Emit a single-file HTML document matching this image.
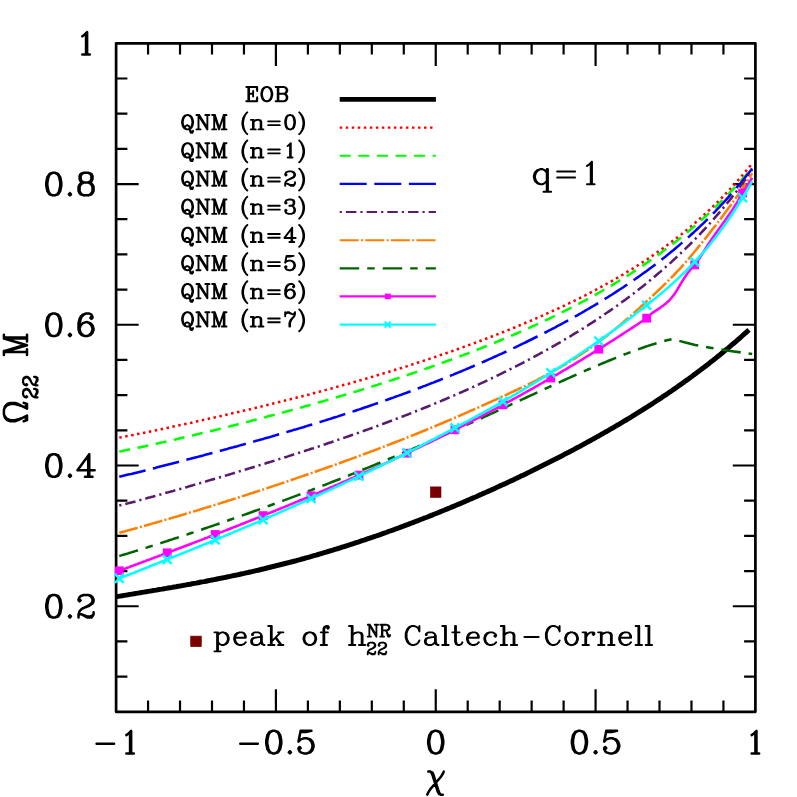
<!DOCTYPE html>
<html><head><meta charset="utf-8"><title>plot</title><style>html,body{margin:0;padding:0;background:#fff;font-family:"Liberation Sans",sans-serif}svg{display:block}</style></head><body>
<svg width="797" height="797" viewBox="0 0 797 797">
<rect width="797" height="797" fill="#fff"/>
<rect x="116.10" y="43.30" width="639.30" height="668.50" fill="none" stroke="#000" stroke-width="2.70" stroke-linejoin="round"/>
<path d="M148.06 711.80 v-11.3 M148.06 43.30 v11.3M180.03 711.80 v-11.3 M180.03 43.30 v11.3M212.00 711.80 v-11.3 M212.00 43.30 v11.3M243.96 711.80 v-11.3 M243.96 43.30 v11.3M275.92 711.80 v-22.6 M275.92 43.30 v22.6M307.89 711.80 v-11.3 M307.89 43.30 v11.3M339.85 711.80 v-11.3 M339.85 43.30 v11.3M371.82 711.80 v-11.3 M371.82 43.30 v11.3M403.78 711.80 v-11.3 M403.78 43.30 v11.3M435.75 711.80 v-22.6 M435.75 43.30 v22.6M467.71 711.80 v-11.3 M467.71 43.30 v11.3M499.68 711.80 v-11.3 M499.68 43.30 v11.3M531.64 711.80 v-11.3 M531.64 43.30 v11.3M563.61 711.80 v-11.3 M563.61 43.30 v11.3M595.58 711.80 v-22.6 M595.58 43.30 v22.6M627.54 711.80 v-11.3 M627.54 43.30 v11.3M659.50 711.80 v-11.3 M659.50 43.30 v11.3M691.47 711.80 v-11.3 M691.47 43.30 v11.3M723.43 711.80 v-11.3 M723.43 43.30 v11.3M116.10 78.48 h11.3 M755.40 78.48 h-11.3M116.10 113.67 h11.3 M755.40 113.67 h-11.3M116.10 148.85 h11.3 M755.40 148.85 h-11.3M116.10 184.04 h22.6 M755.40 184.04 h-22.6M116.10 219.22 h11.3 M755.40 219.22 h-11.3M116.10 254.41 h11.3 M755.40 254.41 h-11.3M116.10 289.59 h11.3 M755.40 289.59 h-11.3M116.10 324.77 h22.6 M755.40 324.77 h-22.6M116.10 359.96 h11.3 M755.40 359.96 h-11.3M116.10 395.14 h11.3 M755.40 395.14 h-11.3M116.10 430.33 h11.3 M755.40 430.33 h-11.3M116.10 465.51 h22.6 M755.40 465.51 h-22.6M116.10 500.69 h11.3 M755.40 500.69 h-11.3M116.10 535.88 h11.3 M755.40 535.88 h-11.3M116.10 571.06 h11.3 M755.40 571.06 h-11.3M116.10 606.25 h22.6 M755.40 606.25 h-22.6M116.10 641.43 h11.3 M755.40 641.43 h-11.3M116.10 676.62 h11.3 M755.40 676.62 h-11.3" stroke="#000" stroke-width="2.20" fill="none"/>
<path d="M116.1 596.8 L118.1 596.4 L120.1 596.1 L122.1 595.8 L124.1 595.4 L126.1 595.1 L128.1 594.8 L130.1 594.4 L132.1 594.1 L134.1 593.8 L136.1 593.4 L138.1 593.1 L140.1 592.8 L142.1 592.4 L144.1 592.1 L146.1 591.8 L148.1 591.4 L150.1 591.1 L152.1 590.8 L154.1 590.4 L156.1 590.1 L158.1 589.7 L160.1 589.4 L162.1 589.1 L164.1 588.7 L166.1 588.4 L168.1 588.0 L170.1 587.7 L172.1 587.4 L174.1 587.0 L176.1 586.7 L178.1 586.3 L180.1 586.0 L182.1 585.6 L184.1 585.2 L186.1 584.9 L188.1 584.5 L190.1 584.2 L192.1 583.8 L194.1 583.4 L196.1 583.1 L198.1 582.7 L200.1 582.3 L202.1 581.9 L204.1 581.6 L206.1 581.2 L208.1 580.8 L210.1 580.4 L212.1 580.0 L214.1 579.6 L216.1 579.2 L218.1 578.8 L220.1 578.4 L222.1 578.0 L224.1 577.6 L226.1 577.2 L228.1 576.8 L230.1 576.4 L232.1 575.9 L234.1 575.5 L236.1 575.1 L238.1 574.7 L240.1 574.2 L242.1 573.8 L244.1 573.4 L246.1 572.9 L248.1 572.5 L250.1 572.0 L252.1 571.6 L254.1 571.1 L256.1 570.6 L258.1 570.2 L260.1 569.7 L262.1 569.2 L264.1 568.8 L266.1 568.3 L268.1 567.8 L270.1 567.3 L272.1 566.8 L274.1 566.3 L276.1 565.8 L278.1 565.3 L280.1 564.8 L282.1 564.3 L284.1 563.8 L286.1 563.3 L288.1 562.8 L290.1 562.2 L292.1 561.7 L294.1 561.2 L296.1 560.7 L298.1 560.1 L300.1 559.6 L302.1 559.0 L304.1 558.5 L306.1 557.9 L308.1 557.4 L310.1 556.8 L312.1 556.2 L314.1 555.6 L316.1 555.1 L318.1 554.5 L320.1 553.9 L322.1 553.3 L324.1 552.7 L326.1 552.1 L328.1 551.5 L330.1 550.9 L332.1 550.3 L334.1 549.7 L336.1 549.1 L338.1 548.5 L340.1 547.9 L342.1 547.2 L344.1 546.6 L346.1 546.0 L348.1 545.3 L350.1 544.7 L352.1 544.0 L354.1 543.4 L356.1 542.7 L358.1 542.1 L360.1 541.4 L362.1 540.7 L364.1 540.1 L366.1 539.4 L368.1 538.7 L370.1 538.0 L372.1 537.4 L374.1 536.7 L376.1 536.0 L378.1 535.3 L380.1 534.6 L382.1 533.9 L384.1 533.2 L386.1 532.5 L388.1 531.7 L390.1 531.0 L392.1 530.3 L394.1 529.6 L396.1 528.8 L398.1 528.1 L400.1 527.4 L402.1 526.6 L404.1 525.9 L406.1 525.1 L408.1 524.4 L410.1 523.6 L412.1 522.9 L414.1 522.1 L416.1 521.3 L418.1 520.6 L420.1 519.8 L422.1 519.0 L424.1 518.2 L426.1 517.5 L428.1 516.7 L430.1 515.9 L432.1 515.1 L434.1 514.3 L436.1 513.5 L438.1 512.7 L440.1 511.9 L442.1 511.0 L444.1 510.2 L446.1 509.4 L448.1 508.6 L450.1 507.8 L452.1 506.9 L454.1 506.1 L456.1 505.2 L458.1 504.4 L460.1 503.6 L462.1 502.7 L464.1 501.9 L466.1 501.0 L468.1 500.1 L470.1 499.3 L472.1 498.4 L474.1 497.5 L476.1 496.7 L478.1 495.8 L480.1 494.9 L482.1 494.0 L484.1 493.1 L486.1 492.3 L488.1 491.4 L490.1 490.5 L492.1 489.6 L494.1 488.7 L496.1 487.7 L498.1 486.8 L500.1 485.9 L502.1 485.0 L504.1 484.1 L506.1 483.2 L508.1 482.2 L510.1 481.3 L512.1 480.4 L514.1 479.4 L516.1 478.5 L518.1 477.5 L520.1 476.6 L522.1 475.6 L524.1 474.7 L526.1 473.7 L528.1 472.7 L530.1 471.8 L532.1 470.8 L534.1 469.8 L536.1 468.8 L538.1 467.8 L540.1 466.8 L542.1 465.8 L544.1 464.8 L546.1 463.8 L548.1 462.8 L550.1 461.8 L552.1 460.8 L554.1 459.8 L556.1 458.8 L558.1 457.7 L560.1 456.7 L562.1 455.7 L564.1 454.6 L566.1 453.6 L568.1 452.6 L570.1 451.5 L572.1 450.4 L574.1 449.4 L576.1 448.3 L578.1 447.2 L580.1 446.2 L582.1 445.1 L584.1 444.0 L586.1 442.9 L588.1 441.8 L590.1 440.7 L592.1 439.6 L594.1 438.5 L596.1 437.4 L598.1 436.3 L600.1 435.1 L602.1 434.0 L604.1 432.9 L606.1 431.7 L608.1 430.6 L610.1 429.4 L612.1 428.3 L614.1 427.1 L616.1 425.9 L618.1 424.8 L620.1 423.6 L622.1 422.4 L624.1 421.2 L626.1 420.0 L628.1 418.8 L630.1 417.6 L632.1 416.4 L634.1 415.1 L636.1 413.9 L638.1 412.7 L640.1 411.4 L642.1 410.2 L644.1 408.9 L646.1 407.6 L648.1 406.4 L650.1 405.1 L652.1 403.8 L654.1 402.5 L656.1 401.2 L658.1 399.9 L660.1 398.6 L662.1 397.2 L664.1 395.9 L666.1 394.6 L668.1 393.2 L670.1 391.8 L672.1 390.5 L674.1 389.1 L676.1 387.7 L678.1 386.3 L680.1 384.9 L682.1 383.5 L684.1 382.1 L686.1 380.6 L688.1 379.2 L690.1 377.7 L692.1 376.3 L694.1 374.8 L696.1 373.3 L698.1 371.8 L700.1 370.3 L702.1 368.8 L704.1 367.3 L706.1 365.7 L708.1 364.2 L710.1 362.6 L712.1 361.1 L714.1 359.5 L716.1 357.9 L718.1 356.3 L720.1 354.7 L722.1 353.0 L724.1 351.4 L726.1 349.7 L728.1 348.1 L730.1 346.4 L732.1 344.7 L734.1 343.0 L736.1 341.3 L738.1 339.5 L740.1 337.8 L742.1 336.0 L744.1 334.2 L746.1 332.5 L748.1 330.6 L749.0 329.8" fill="none" stroke="#000" stroke-width="5.00" stroke-linecap="butt" stroke-linejoin="round"/>
<path d="M119.3 437.6 L121.3 437.3 L123.3 436.9 L125.3 436.5 L127.3 436.1 L129.3 435.7 L131.3 435.3 L133.3 434.9 L135.3 434.5 L137.3 434.1 L139.3 433.7 L141.3 433.3 L143.3 432.9 L145.3 432.5 L147.3 432.1 L149.3 431.7 L151.3 431.2 L153.3 430.8 L155.3 430.4 L157.3 430.0 L159.3 429.6 L161.3 429.2 L163.3 428.7 L165.3 428.3 L167.3 427.9 L169.3 427.5 L171.3 427.0 L173.3 426.6 L175.3 426.2 L177.3 425.7 L179.3 425.3 L181.3 424.9 L183.3 424.4 L185.3 424.0 L187.3 423.6 L189.3 423.1 L191.3 422.7 L193.3 422.2 L195.3 421.8 L197.3 421.3 L199.3 420.9 L201.3 420.4 L203.3 420.0 L205.3 419.6 L207.3 419.1 L209.3 418.6 L211.3 418.2 L213.3 417.7 L215.3 417.3 L217.3 416.8 L219.3 416.4 L221.3 415.9 L223.3 415.5 L225.3 415.0 L227.3 414.5 L229.3 414.1 L231.3 413.6 L233.3 413.1 L235.3 412.7 L237.3 412.2 L239.3 411.7 L241.3 411.3 L243.3 410.8 L245.3 410.3 L247.3 409.8 L249.3 409.4 L251.3 408.9 L253.3 408.4 L255.3 407.9 L257.3 407.4 L259.3 406.9 L261.3 406.5 L263.3 406.0 L265.3 405.5 L267.3 405.0 L269.3 404.5 L271.3 404.0 L273.3 403.5 L275.3 403.0 L277.3 402.5 L279.3 402.0 L281.3 401.5 L283.3 401.0 L285.3 400.5 L287.3 400.0 L289.3 399.5 L291.3 399.0 L293.3 398.5 L295.3 398.0 L297.3 397.5 L299.3 397.0 L301.3 396.4 L303.3 395.9 L305.3 395.4 L307.3 394.9 L309.3 394.4 L311.3 393.8 L313.3 393.3 L315.3 392.8 L317.3 392.2 L319.3 391.7 L321.3 391.2 L323.3 390.6 L325.3 390.1 L327.3 389.5 L329.3 389.0 L331.3 388.5 L333.3 387.9 L335.3 387.4 L337.3 386.8 L339.3 386.3 L341.3 385.7 L343.3 385.1 L345.3 384.6 L347.3 384.0 L349.3 383.5 L351.3 382.9 L353.3 382.3 L355.3 381.7 L357.3 381.2 L359.3 380.6 L361.3 380.0 L363.3 379.4 L365.3 378.9 L367.3 378.3 L369.3 377.7 L371.3 377.1 L373.3 376.5 L375.3 375.9 L377.3 375.3 L379.3 374.7 L381.3 374.1 L383.3 373.5 L385.3 372.9 L387.3 372.3 L389.3 371.7 L391.3 371.1 L393.3 370.5 L395.3 369.8 L397.3 369.2 L399.3 368.6 L401.3 368.0 L403.3 367.3 L405.3 366.7 L407.3 366.1 L409.3 365.4 L411.3 364.8 L413.3 364.1 L415.3 363.5 L417.3 362.8 L419.3 362.2 L421.3 361.5 L423.3 360.9 L425.3 360.2 L427.3 359.6 L429.3 358.9 L431.3 358.2 L433.3 357.6 L435.3 356.9 L437.3 356.2 L439.3 355.5 L441.3 354.8 L443.3 354.2 L445.3 353.5 L447.3 352.8 L449.3 352.1 L451.3 351.4 L453.3 350.7 L455.3 350.0 L457.3 349.3 L459.3 348.6 L461.3 347.8 L463.3 347.1 L465.3 346.4 L467.3 345.7 L469.3 344.9 L471.3 344.2 L473.3 343.5 L475.3 342.7 L477.3 342.0 L479.3 341.3 L481.3 340.5 L483.3 339.7 L485.3 339.0 L487.3 338.2 L489.3 337.5 L491.3 336.7 L493.3 335.9 L495.3 335.2 L497.3 334.4 L499.3 333.6 L501.3 332.8 L503.3 332.0 L505.3 331.2 L507.3 330.4 L509.3 329.6 L511.3 328.8 L513.3 328.0 L515.3 327.2 L517.3 326.3 L519.3 325.5 L521.3 324.7 L523.3 323.9 L525.3 323.0 L527.3 322.2 L529.3 321.3 L531.3 320.5 L533.3 319.6 L535.3 318.7 L537.3 317.9 L539.3 317.0 L541.3 316.1 L543.3 315.2 L545.3 314.3 L547.3 313.4 L549.3 312.5 L551.3 311.6 L553.3 310.7 L555.3 309.8 L557.3 308.9 L559.3 308.0 L561.3 307.0 L563.3 306.1 L565.3 305.1 L567.3 304.2 L569.3 303.2 L571.3 302.2 L573.3 301.3 L575.3 300.3 L577.3 299.3 L579.3 298.3 L581.3 297.3 L583.3 296.3 L585.3 295.3 L587.3 294.2 L589.3 293.2 L591.3 292.2 L593.3 291.1 L595.3 290.1 L597.3 289.0 L599.3 287.9 L601.3 286.8 L603.3 285.7 L605.3 284.6 L607.3 283.5 L609.3 282.4 L611.3 281.3 L613.3 280.2 L615.3 279.0 L617.3 277.9 L619.3 276.7 L621.3 275.5 L623.3 274.3 L625.3 273.1 L627.3 271.9 L629.3 270.7 L631.3 269.5 L633.3 268.2 L635.3 267.0 L637.3 265.7 L639.3 264.4 L641.3 263.1 L643.3 261.8 L645.3 260.5 L647.3 259.2 L649.3 257.8 L651.3 256.5 L653.3 255.1 L655.3 253.7 L657.3 252.3 L659.3 250.9 L661.3 249.5 L663.3 248.1 L665.3 246.6 L667.3 245.1 L669.3 243.6 L671.3 242.1 L673.3 240.6 L675.3 239.1 L677.3 237.5 L679.3 235.9 L681.3 234.4 L683.3 232.7 L685.3 231.1 L687.3 229.5 L689.3 227.8 L691.3 226.1 L693.3 224.4 L695.3 222.7 L697.3 220.9 L699.3 219.2 L701.3 217.4 L703.3 215.6 L705.3 213.8 L707.3 211.9 L709.3 210.0 L711.3 208.1 L713.3 206.2 L715.3 204.3 L717.3 202.3 L719.3 200.3 L721.3 198.3 L723.3 196.2 L725.3 194.1 L727.3 192.0 L729.3 189.9 L731.3 187.8 L733.3 185.6 L735.3 183.4 L737.3 181.1 L739.3 178.8 L741.3 176.5 L743.3 174.2 L745.3 171.8 L747.3 169.5 L749.3 167.0 L751.3 164.6 L752.2 163.4" fill="none" stroke="#ff0000" stroke-width="2.55" stroke-linecap="butt" stroke-linejoin="round" stroke-dasharray="2.5 3.52"/>
<path d="M119.3 451.6 L121.3 451.2 L123.3 450.7 L125.3 450.3 L127.3 449.9 L129.3 449.5 L131.3 449.1 L133.3 448.7 L135.3 448.3 L137.3 447.9 L139.3 447.4 L141.3 447.0 L143.3 446.6 L145.3 446.2 L147.3 445.7 L149.3 445.3 L151.3 444.9 L153.3 444.4 L155.3 444.0 L157.3 443.5 L159.3 443.1 L161.3 442.6 L163.3 442.2 L165.3 441.7 L167.3 441.3 L169.3 440.8 L171.3 440.4 L173.3 439.9 L175.3 439.5 L177.3 439.0 L179.3 438.5 L181.3 438.1 L183.3 437.6 L185.3 437.1 L187.3 436.7 L189.3 436.2 L191.3 435.7 L193.3 435.3 L195.3 434.8 L197.3 434.3 L199.3 433.8 L201.3 433.3 L203.3 432.9 L205.3 432.4 L207.3 431.9 L209.3 431.4 L211.3 430.9 L213.3 430.4 L215.3 429.9 L217.3 429.4 L219.3 428.9 L221.3 428.4 L223.3 428.0 L225.3 427.5 L227.3 427.0 L229.3 426.5 L231.3 425.9 L233.3 425.4 L235.3 424.9 L237.3 424.4 L239.3 423.9 L241.3 423.4 L243.3 422.9 L245.3 422.4 L247.3 421.9 L249.3 421.4 L251.3 420.8 L253.3 420.3 L255.3 419.8 L257.3 419.3 L259.3 418.8 L261.3 418.2 L263.3 417.7 L265.3 417.2 L267.3 416.6 L269.3 416.1 L271.3 415.6 L273.3 415.1 L275.3 414.5 L277.3 414.0 L279.3 413.4 L281.3 412.9 L283.3 412.4 L285.3 411.8 L287.3 411.3 L289.3 410.7 L291.3 410.2 L293.3 409.6 L295.3 409.1 L297.3 408.5 L299.3 408.0 L301.3 407.4 L303.3 406.9 L305.3 406.3 L307.3 405.7 L309.3 405.2 L311.3 404.6 L313.3 404.0 L315.3 403.5 L317.3 402.9 L319.3 402.3 L321.3 401.7 L323.3 401.2 L325.3 400.6 L327.3 400.0 L329.3 399.4 L331.3 398.8 L333.3 398.3 L335.3 397.7 L337.3 397.1 L339.3 396.5 L341.3 395.9 L343.3 395.3 L345.3 394.7 L347.3 394.1 L349.3 393.5 L351.3 392.9 L353.3 392.3 L355.3 391.7 L357.3 391.1 L359.3 390.5 L361.3 389.9 L363.3 389.2 L365.3 388.6 L367.3 388.0 L369.3 387.4 L371.3 386.7 L373.3 386.1 L375.3 385.5 L377.3 384.9 L379.3 384.2 L381.3 383.6 L383.3 382.9 L385.3 382.3 L387.3 381.7 L389.3 381.0 L391.3 380.4 L393.3 379.7 L395.3 379.0 L397.3 378.4 L399.3 377.7 L401.3 377.1 L403.3 376.4 L405.3 375.7 L407.3 375.1 L409.3 374.4 L411.3 373.7 L413.3 373.0 L415.3 372.4 L417.3 371.7 L419.3 371.0 L421.3 370.3 L423.3 369.6 L425.3 368.9 L427.3 368.2 L429.3 367.5 L431.3 366.8 L433.3 366.1 L435.3 365.4 L437.3 364.7 L439.3 363.9 L441.3 363.2 L443.3 362.5 L445.3 361.8 L447.3 361.0 L449.3 360.3 L451.3 359.6 L453.3 358.8 L455.3 358.1 L457.3 357.3 L459.3 356.6 L461.3 355.8 L463.3 355.1 L465.3 354.3 L467.3 353.6 L469.3 352.8 L471.3 352.0 L473.3 351.2 L475.3 350.5 L477.3 349.7 L479.3 348.9 L481.3 348.1 L483.3 347.3 L485.3 346.5 L487.3 345.7 L489.3 344.9 L491.3 344.1 L493.3 343.3 L495.3 342.5 L497.3 341.6 L499.3 340.8 L501.3 340.0 L503.3 339.1 L505.3 338.3 L507.3 337.5 L509.3 336.6 L511.3 335.7 L513.3 334.9 L515.3 334.0 L517.3 333.2 L519.3 332.3 L521.3 331.4 L523.3 330.5 L525.3 329.6 L527.3 328.7 L529.3 327.8 L531.3 326.9 L533.3 326.0 L535.3 325.1 L537.3 324.2 L539.3 323.3 L541.3 322.3 L543.3 321.4 L545.3 320.5 L547.3 319.5 L549.3 318.6 L551.3 317.6 L553.3 316.6 L555.3 315.7 L557.3 314.7 L559.3 313.7 L561.3 312.7 L563.3 311.7 L565.3 310.7 L567.3 309.7 L569.3 308.7 L571.3 307.6 L573.3 306.6 L575.3 305.6 L577.3 304.5 L579.3 303.5 L581.3 302.4 L583.3 301.4 L585.3 300.3 L587.3 299.2 L589.3 298.1 L591.3 297.0 L593.3 295.9 L595.3 294.8 L597.3 293.7 L599.3 292.5 L601.3 291.4 L603.3 290.2 L605.3 289.1 L607.3 287.9 L609.3 286.7 L611.3 285.6 L613.3 284.4 L615.3 283.2 L617.3 282.0 L619.3 280.7 L621.3 279.5 L623.3 278.3 L625.3 277.0 L627.3 275.8 L629.3 274.5 L631.3 273.2 L633.3 271.9 L635.3 270.6 L637.3 269.3 L639.3 268.0 L641.3 266.6 L643.3 265.3 L645.3 263.9 L647.3 262.5 L649.3 261.1 L651.3 259.7 L653.3 258.3 L655.3 256.9 L657.3 255.5 L659.3 254.0 L661.3 252.6 L663.3 251.1 L665.3 249.6 L667.3 248.1 L669.3 246.6 L671.3 245.0 L673.3 243.5 L675.3 241.9 L677.3 240.4 L679.3 238.8 L681.3 237.2 L683.3 235.5 L685.3 233.9 L687.3 232.2 L689.3 230.6 L691.3 228.9 L693.3 227.2 L695.3 225.4 L697.3 223.7 L699.3 221.9 L701.3 220.2 L703.3 218.4 L705.3 216.5 L707.3 214.7 L709.3 212.9 L711.3 211.0 L713.3 209.1 L715.3 207.2 L717.3 205.2 L719.3 203.3 L721.3 201.3 L723.3 199.3 L725.3 197.3 L727.3 195.3 L729.3 193.2 L731.3 191.1 L733.3 189.0 L735.3 186.9 L737.3 184.7 L739.3 182.5 L741.3 180.3 L743.3 178.1 L745.3 175.8 L747.3 173.6 L749.3 171.2 L751.3 168.9 L752.2 167.8" fill="none" stroke="#00ff00" stroke-width="2.55" stroke-linecap="butt" stroke-linejoin="round" stroke-dasharray="11 7.6"/>
<path d="M119.3 476.8 L121.3 476.3 L123.3 475.8 L125.3 475.3 L127.3 474.8 L129.3 474.3 L131.3 473.9 L133.3 473.4 L135.3 472.9 L137.3 472.4 L139.3 471.9 L141.3 471.4 L143.3 470.9 L145.3 470.4 L147.3 469.9 L149.3 469.4 L151.3 468.9 L153.3 468.4 L155.3 467.9 L157.3 467.3 L159.3 466.8 L161.3 466.3 L163.3 465.8 L165.3 465.3 L167.3 464.8 L169.3 464.3 L171.3 463.8 L173.3 463.2 L175.3 462.7 L177.3 462.2 L179.3 461.7 L181.3 461.2 L183.3 460.6 L185.3 460.1 L187.3 459.6 L189.3 459.1 L191.3 458.5 L193.3 458.0 L195.3 457.5 L197.3 457.0 L199.3 456.4 L201.3 455.9 L203.3 455.4 L205.3 454.8 L207.3 454.3 L209.3 453.8 L211.3 453.2 L213.3 452.7 L215.3 452.1 L217.3 451.6 L219.3 451.1 L221.3 450.5 L223.3 450.0 L225.3 449.4 L227.3 448.9 L229.3 448.3 L231.3 447.8 L233.3 447.3 L235.3 446.7 L237.3 446.2 L239.3 445.6 L241.3 445.0 L243.3 444.5 L245.3 443.9 L247.3 443.4 L249.3 442.8 L251.3 442.3 L253.3 441.7 L255.3 441.1 L257.3 440.6 L259.3 440.0 L261.3 439.4 L263.3 438.9 L265.3 438.3 L267.3 437.7 L269.3 437.2 L271.3 436.6 L273.3 436.0 L275.3 435.4 L277.3 434.8 L279.3 434.3 L281.3 433.7 L283.3 433.1 L285.3 432.5 L287.3 431.9 L289.3 431.3 L291.3 430.7 L293.3 430.1 L295.3 429.6 L297.3 429.0 L299.3 428.4 L301.3 427.8 L303.3 427.2 L305.3 426.5 L307.3 425.9 L309.3 425.3 L311.3 424.7 L313.3 424.1 L315.3 423.5 L317.3 422.9 L319.3 422.3 L321.3 421.6 L323.3 421.0 L325.3 420.4 L327.3 419.7 L329.3 419.1 L331.3 418.5 L333.3 417.8 L335.3 417.2 L337.3 416.6 L339.3 415.9 L341.3 415.3 L343.3 414.6 L345.3 414.0 L347.3 413.3 L349.3 412.7 L351.3 412.0 L353.3 411.4 L355.3 410.7 L357.3 410.0 L359.3 409.4 L361.3 408.7 L363.3 408.0 L365.3 407.3 L367.3 406.7 L369.3 406.0 L371.3 405.3 L373.3 404.6 L375.3 403.9 L377.3 403.2 L379.3 402.5 L381.3 401.8 L383.3 401.1 L385.3 400.4 L387.3 399.7 L389.3 399.0 L391.3 398.3 L393.3 397.6 L395.3 396.8 L397.3 396.1 L399.3 395.4 L401.3 394.7 L403.3 393.9 L405.3 393.2 L407.3 392.5 L409.3 391.7 L411.3 391.0 L413.3 390.2 L415.3 389.5 L417.3 388.7 L419.3 388.0 L421.3 387.2 L423.3 386.4 L425.3 385.7 L427.3 384.9 L429.3 384.1 L431.3 383.3 L433.3 382.6 L435.3 381.8 L437.3 381.0 L439.3 380.2 L441.3 379.4 L443.3 378.6 L445.3 377.8 L447.3 377.0 L449.3 376.2 L451.3 375.4 L453.3 374.6 L455.3 373.7 L457.3 372.9 L459.3 372.1 L461.3 371.3 L463.3 370.4 L465.3 369.6 L467.3 368.7 L469.3 367.9 L471.3 367.0 L473.3 366.2 L475.3 365.3 L477.3 364.5 L479.3 363.6 L481.3 362.7 L483.3 361.9 L485.3 361.0 L487.3 360.1 L489.3 359.2 L491.3 358.3 L493.3 357.4 L495.3 356.5 L497.3 355.6 L499.3 354.7 L501.3 353.8 L503.3 352.9 L505.3 352.0 L507.3 351.0 L509.3 350.1 L511.3 349.2 L513.3 348.2 L515.3 347.3 L517.3 346.3 L519.3 345.4 L521.3 344.4 L523.3 343.4 L525.3 342.5 L527.3 341.5 L529.3 340.5 L531.3 339.5 L533.3 338.5 L535.3 337.5 L537.3 336.5 L539.3 335.5 L541.3 334.5 L543.3 333.5 L545.3 332.5 L547.3 331.5 L549.3 330.4 L551.3 329.4 L553.3 328.3 L555.3 327.3 L557.3 326.2 L559.3 325.2 L561.3 324.1 L563.3 323.0 L565.3 321.9 L567.3 320.8 L569.3 319.7 L571.3 318.6 L573.3 317.5 L575.3 316.4 L577.3 315.3 L579.3 314.1 L581.3 313.0 L583.3 311.9 L585.3 310.7 L587.3 309.5 L589.3 308.4 L591.3 307.2 L593.3 306.0 L595.3 304.8 L597.3 303.6 L599.3 302.4 L601.3 301.2 L603.3 300.0 L605.3 298.7 L607.3 297.5 L609.3 296.2 L611.3 295.0 L613.3 293.7 L615.3 292.4 L617.3 291.1 L619.3 289.8 L621.3 288.5 L623.3 287.2 L625.3 285.8 L627.3 284.5 L629.3 283.1 L631.3 281.8 L633.3 280.4 L635.3 279.0 L637.3 277.6 L639.3 276.2 L641.3 274.8 L643.3 273.3 L645.3 271.9 L647.3 270.4 L649.3 268.9 L651.3 267.5 L653.3 266.0 L655.3 264.4 L657.3 262.9 L659.3 261.4 L661.3 259.8 L663.3 258.2 L665.3 256.7 L667.3 255.1 L669.3 253.4 L671.3 251.8 L673.3 250.2 L675.3 248.5 L677.3 246.8 L679.3 245.1 L681.3 243.4 L683.3 241.7 L685.3 239.9 L687.3 238.1 L689.3 236.4 L691.3 234.5 L693.3 232.7 L695.3 230.9 L697.3 229.0 L699.3 227.1 L701.3 225.2 L703.3 223.3 L705.3 221.3 L707.3 219.4 L709.3 217.4 L711.3 215.4 L713.3 213.3 L715.3 211.3 L717.3 209.2 L719.3 207.1 L721.3 204.9 L723.3 202.8 L725.3 200.6 L727.3 198.4 L729.3 196.2 L731.3 193.9 L733.3 191.6 L735.3 189.3 L737.3 186.9 L739.3 184.6 L741.3 182.2 L743.3 179.7 L745.3 177.3 L747.3 174.8 L749.3 172.2 L751.3 169.7 L752.2 168.5" fill="none" stroke="#0000ff" stroke-width="2.55" stroke-linecap="butt" stroke-linejoin="round" stroke-dasharray="27 7.6"/>
<path d="M119.3 505.5 L121.3 505.0 L123.3 504.5 L125.3 504.0 L127.3 503.5 L129.3 502.9 L131.3 502.4 L133.3 501.9 L135.3 501.4 L137.3 500.8 L139.3 500.3 L141.3 499.8 L143.3 499.2 L145.3 498.7 L147.3 498.1 L149.3 497.6 L151.3 497.0 L153.3 496.5 L155.3 495.9 L157.3 495.4 L159.3 494.8 L161.3 494.3 L163.3 493.7 L165.3 493.1 L167.3 492.6 L169.3 492.0 L171.3 491.4 L173.3 490.9 L175.3 490.3 L177.3 489.7 L179.3 489.2 L181.3 488.6 L183.3 488.0 L185.3 487.4 L187.3 486.9 L189.3 486.3 L191.3 485.7 L193.3 485.1 L195.3 484.5 L197.3 483.9 L199.3 483.4 L201.3 482.8 L203.3 482.2 L205.3 481.6 L207.3 481.0 L209.3 480.4 L211.3 479.8 L213.3 479.2 L215.3 478.6 L217.3 478.0 L219.3 477.4 L221.3 476.9 L223.3 476.3 L225.3 475.7 L227.3 475.1 L229.3 474.5 L231.3 473.9 L233.3 473.3 L235.3 472.6 L237.3 472.0 L239.3 471.4 L241.3 470.8 L243.3 470.2 L245.3 469.6 L247.3 469.0 L249.3 468.4 L251.3 467.8 L253.3 467.2 L255.3 466.6 L257.3 465.9 L259.3 465.3 L261.3 464.7 L263.3 464.1 L265.3 463.5 L267.3 462.8 L269.3 462.2 L271.3 461.6 L273.3 461.0 L275.3 460.3 L277.3 459.7 L279.3 459.1 L281.3 458.5 L283.3 457.8 L285.3 457.2 L287.3 456.6 L289.3 455.9 L291.3 455.3 L293.3 454.6 L295.3 454.0 L297.3 453.4 L299.3 452.7 L301.3 452.1 L303.3 451.4 L305.3 450.8 L307.3 450.1 L309.3 449.5 L311.3 448.8 L313.3 448.2 L315.3 447.5 L317.3 446.8 L319.3 446.2 L321.3 445.5 L323.3 444.8 L325.3 444.2 L327.3 443.5 L329.3 442.8 L331.3 442.2 L333.3 441.5 L335.3 440.8 L337.3 440.1 L339.3 439.4 L341.3 438.8 L343.3 438.1 L345.3 437.4 L347.3 436.7 L349.3 436.0 L351.3 435.3 L353.3 434.6 L355.3 433.9 L357.3 433.2 L359.3 432.5 L361.3 431.8 L363.3 431.1 L365.3 430.3 L367.3 429.6 L369.3 428.9 L371.3 428.2 L373.3 427.5 L375.3 426.7 L377.3 426.0 L379.3 425.3 L381.3 424.5 L383.3 423.8 L385.3 423.0 L387.3 422.3 L389.3 421.5 L391.3 420.8 L393.3 420.0 L395.3 419.3 L397.3 418.5 L399.3 417.8 L401.3 417.0 L403.3 416.2 L405.3 415.4 L407.3 414.7 L409.3 413.9 L411.3 413.1 L413.3 412.3 L415.3 411.5 L417.3 410.7 L419.3 409.9 L421.3 409.1 L423.3 408.3 L425.3 407.5 L427.3 406.7 L429.3 405.9 L431.3 405.1 L433.3 404.2 L435.3 403.4 L437.3 402.6 L439.3 401.7 L441.3 400.9 L443.3 400.0 L445.3 399.2 L447.3 398.3 L449.3 397.5 L451.3 396.6 L453.3 395.8 L455.3 394.9 L457.3 394.0 L459.3 393.1 L461.3 392.3 L463.3 391.4 L465.3 390.5 L467.3 389.6 L469.3 388.7 L471.3 387.8 L473.3 386.9 L475.3 386.0 L477.3 385.1 L479.3 384.1 L481.3 383.2 L483.3 382.3 L485.3 381.3 L487.3 380.4 L489.3 379.4 L491.3 378.5 L493.3 377.5 L495.3 376.6 L497.3 375.6 L499.3 374.6 L501.3 373.7 L503.3 372.7 L505.3 371.7 L507.3 370.7 L509.3 369.7 L511.3 368.7 L513.3 367.7 L515.3 366.7 L517.3 365.6 L519.3 364.6 L521.3 363.6 L523.3 362.6 L525.3 361.5 L527.3 360.5 L529.3 359.4 L531.3 358.3 L533.3 357.3 L535.3 356.2 L537.3 355.1 L539.3 354.0 L541.3 352.9 L543.3 351.8 L545.3 350.7 L547.3 349.6 L549.3 348.5 L551.3 347.4 L553.3 346.2 L555.3 345.1 L557.3 343.9 L559.3 342.8 L561.3 341.6 L563.3 340.4 L565.3 339.2 L567.3 338.1 L569.3 336.9 L571.3 335.7 L573.3 334.4 L575.3 333.2 L577.3 332.0 L579.3 330.8 L581.3 329.5 L583.3 328.3 L585.3 327.0 L587.3 325.7 L589.3 324.4 L591.3 323.2 L593.3 321.9 L595.3 320.5 L597.3 319.2 L599.3 317.9 L601.3 316.6 L603.3 315.2 L605.3 313.8 L607.3 312.5 L609.3 311.1 L611.3 309.7 L613.3 308.3 L615.3 306.9 L617.3 305.5 L619.3 304.0 L621.3 302.6 L623.3 301.1 L625.3 299.7 L627.3 298.2 L629.3 296.7 L631.3 295.2 L633.3 293.7 L635.3 292.1 L637.3 290.6 L639.3 289.0 L641.3 287.4 L643.3 285.9 L645.3 284.3 L647.3 282.6 L649.3 281.0 L651.3 279.4 L653.3 277.7 L655.3 276.0 L657.3 274.3 L659.3 272.6 L661.3 270.9 L663.3 269.2 L665.3 267.4 L667.3 265.6 L669.3 263.9 L671.3 262.1 L673.3 260.2 L675.3 258.4 L677.3 256.5 L679.3 254.6 L681.3 252.7 L683.3 250.8 L685.3 248.9 L687.3 246.9 L689.3 245.0 L691.3 243.0 L693.3 240.9 L695.3 238.9 L697.3 236.8 L699.3 234.8 L701.3 232.6 L703.3 230.5 L705.3 228.4 L707.3 226.2 L709.3 224.0 L711.3 221.8 L713.3 219.5 L715.3 217.2 L717.3 214.9 L719.3 212.6 L721.3 210.2 L723.3 207.9 L725.3 205.5 L727.3 203.0 L729.3 200.6 L731.3 198.1 L733.3 195.5 L735.3 193.0 L737.3 190.4 L739.3 187.8 L741.3 185.1 L743.3 182.5 L745.3 179.8 L747.3 177.0 L749.3 174.2 L751.3 171.4 L752.2 170.1" fill="none" stroke="#5a1a6e" stroke-width="2.55" stroke-linecap="butt" stroke-linejoin="round" stroke-dasharray="2.2 4 10.5 4"/>
<path d="M119.3 532.8 L121.3 532.2 L123.3 531.7 L125.3 531.2 L127.3 530.6 L129.3 530.1 L131.3 529.5 L133.3 529.0 L135.3 528.4 L137.3 527.9 L139.3 527.3 L141.3 526.7 L143.3 526.2 L145.3 525.6 L147.3 525.0 L149.3 524.5 L151.3 523.9 L153.3 523.3 L155.3 522.8 L157.3 522.2 L159.3 521.6 L161.3 521.0 L163.3 520.5 L165.3 519.9 L167.3 519.3 L169.3 518.7 L171.3 518.1 L173.3 517.5 L175.3 516.9 L177.3 516.4 L179.3 515.8 L181.3 515.2 L183.3 514.6 L185.3 514.0 L187.3 513.4 L189.3 512.8 L191.3 512.2 L193.3 511.6 L195.3 511.0 L197.3 510.4 L199.3 509.7 L201.3 509.1 L203.3 508.5 L205.3 507.9 L207.3 507.3 L209.3 506.7 L211.3 506.0 L213.3 505.4 L215.3 504.8 L217.3 504.2 L219.3 503.6 L221.3 502.9 L223.3 502.3 L225.3 501.7 L227.3 501.0 L229.3 500.4 L231.3 499.8 L233.3 499.1 L235.3 498.5 L237.3 497.8 L239.3 497.2 L241.3 496.6 L243.3 495.9 L245.3 495.3 L247.3 494.6 L249.3 494.0 L251.3 493.3 L253.3 492.7 L255.3 492.0 L257.3 491.4 L259.3 490.7 L261.3 490.0 L263.3 489.4 L265.3 488.7 L267.3 488.1 L269.3 487.4 L271.3 486.7 L273.3 486.1 L275.3 485.4 L277.3 484.7 L279.3 484.1 L281.3 483.4 L283.3 482.7 L285.3 482.0 L287.3 481.4 L289.3 480.7 L291.3 480.0 L293.3 479.3 L295.3 478.6 L297.3 477.9 L299.3 477.3 L301.3 476.6 L303.3 475.9 L305.3 475.2 L307.3 474.5 L309.3 473.8 L311.3 473.1 L313.3 472.4 L315.3 471.7 L317.3 471.0 L319.3 470.3 L321.3 469.6 L323.3 468.9 L325.3 468.2 L327.3 467.5 L329.3 466.8 L331.3 466.1 L333.3 465.4 L335.3 464.7 L337.3 463.9 L339.3 463.2 L341.3 462.5 L343.3 461.8 L345.3 461.0 L347.3 460.3 L349.3 459.6 L351.3 458.9 L353.3 458.1 L355.3 457.4 L357.3 456.7 L359.3 455.9 L361.3 455.2 L363.3 454.4 L365.3 453.7 L367.3 452.9 L369.3 452.2 L371.3 451.4 L373.3 450.7 L375.3 449.9 L377.3 449.2 L379.3 448.4 L381.3 447.6 L383.3 446.9 L385.3 446.1 L387.3 445.3 L389.3 444.6 L391.3 443.8 L393.3 443.0 L395.3 442.2 L397.3 441.4 L399.3 440.7 L401.3 439.9 L403.3 439.1 L405.3 438.3 L407.3 437.5 L409.3 436.7 L411.3 435.9 L413.3 435.1 L415.3 434.3 L417.3 433.5 L419.3 432.7 L421.3 431.8 L423.3 431.0 L425.3 430.2 L427.3 429.4 L429.3 428.6 L431.3 427.7 L433.3 426.9 L435.3 426.1 L437.3 425.2 L439.3 424.4 L441.3 423.5 L443.3 422.7 L445.3 421.8 L447.3 421.0 L449.3 420.1 L451.3 419.3 L453.3 418.4 L455.3 417.5 L457.3 416.7 L459.3 415.8 L461.3 414.9 L463.3 414.1 L465.3 413.2 L467.3 412.3 L469.3 411.4 L471.3 410.5 L473.3 409.7 L475.3 408.8 L477.3 407.9 L479.3 407.0 L481.3 406.1 L483.3 405.2 L485.3 404.3 L487.3 403.4 L489.3 402.5 L491.3 401.6 L493.3 400.7 L495.3 399.8 L497.3 398.9 L499.3 397.9 L501.3 397.0 L503.3 396.1 L505.3 395.2 L507.3 394.3 L509.3 393.3 L511.3 392.4 L513.3 391.5 L515.3 390.5 L517.3 389.6 L519.3 388.6 L521.3 387.7 L523.3 386.7 L525.3 385.8 L527.3 384.8 L529.3 383.8 L531.3 382.8 L533.3 381.8 L535.3 380.8 L537.3 379.8 L539.3 378.7 L541.3 377.7 L543.3 376.6 L545.3 375.6 L547.3 374.5 L549.3 373.4 L551.3 372.3 L553.3 371.2 L555.3 370.1 L557.3 369.0 L559.3 367.8 L561.3 366.6 L563.3 365.5 L565.3 364.3 L567.3 363.1 L569.3 361.8 L571.3 360.6 L573.3 359.3 L575.3 358.1 L577.3 356.8 L579.3 355.5 L581.3 354.2 L583.3 352.8 L585.3 351.5 L587.3 350.1 L589.3 348.7 L591.3 347.3 L593.3 345.9 L595.3 344.5 L597.3 343.0 L599.3 341.5 L601.3 340.0 L603.3 338.5 L605.3 337.0 L607.3 335.4 L609.3 333.9 L611.3 332.3 L613.3 330.6 L615.3 329.0 L617.3 327.3 L619.3 325.7 L621.3 324.0 L623.3 322.3 L625.3 320.5 L627.3 318.8 L629.3 317.0 L631.3 315.3 L633.3 313.5 L635.3 311.7 L637.3 309.9 L639.3 308.1 L641.3 306.2 L643.3 304.4 L645.3 302.6 L647.3 300.7 L649.3 298.9 L651.3 297.0 L653.3 295.1 L655.3 293.3 L657.3 291.4 L659.3 289.5 L661.3 287.6 L663.3 285.6 L665.3 283.7 L667.3 281.7 L669.3 279.7 L671.3 277.7 L673.3 275.6 L675.3 273.5 L677.3 271.4 L679.3 269.3 L681.3 267.1 L683.3 264.8 L685.3 262.6 L687.3 260.3 L689.3 258.0 L691.3 255.6 L693.3 253.2 L695.3 250.8 L697.3 248.4 L699.3 245.9 L701.3 243.5 L703.3 241.0 L705.3 238.5 L707.3 236.0 L709.3 233.4 L711.3 230.9 L713.3 228.3 L715.3 225.8 L717.3 223.2 L719.3 220.5 L721.3 217.9 L723.3 215.2 L725.3 212.5 L727.3 209.8 L729.3 207.1 L731.3 204.3 L733.3 201.5 L735.3 198.7 L737.3 195.8 L739.3 192.9 L741.3 190.0 L743.3 187.0 L745.3 184.0 L747.3 180.9 L749.3 177.8 L751.3 174.6 L752.2 173.2" fill="none" stroke="#ff7f00" stroke-width="2.55" stroke-linecap="butt" stroke-linejoin="round" stroke-dasharray="19 2.3 2 2.3"/>
<path d="M119.3 556.1 L121.3 555.4 L123.3 554.8 L125.3 554.2 L127.3 553.6 L129.3 553.0 L131.3 552.4 L133.3 551.8 L135.3 551.1 L137.3 550.5 L139.3 549.9 L141.3 549.3 L143.3 548.6 L145.3 548.0 L147.3 547.4 L149.3 546.7 L151.3 546.1 L153.3 545.5 L155.3 544.8 L157.3 544.2 L159.3 543.5 L161.3 542.9 L163.3 542.3 L165.3 541.6 L167.3 541.0 L169.3 540.3 L171.3 539.6 L173.3 539.0 L175.3 538.3 L177.3 537.7 L179.3 537.0 L181.3 536.4 L183.3 535.7 L185.3 535.0 L187.3 534.4 L189.3 533.7 L191.3 533.0 L193.3 532.4 L195.3 531.7 L197.3 531.0 L199.3 530.3 L201.3 529.7 L203.3 529.0 L205.3 528.3 L207.3 527.6 L209.3 526.9 L211.3 526.3 L213.3 525.6 L215.3 524.9 L217.3 524.2 L219.3 523.5 L221.3 522.8 L223.3 522.1 L225.3 521.4 L227.3 520.7 L229.3 520.0 L231.3 519.3 L233.3 518.6 L235.3 517.9 L237.3 517.2 L239.3 516.5 L241.3 515.8 L243.3 515.1 L245.3 514.4 L247.3 513.7 L249.3 513.0 L251.3 512.3 L253.3 511.5 L255.3 510.8 L257.3 510.1 L259.3 509.4 L261.3 508.7 L263.3 507.9 L265.3 507.2 L267.3 506.5 L269.3 505.7 L271.3 505.0 L273.3 504.3 L275.3 503.6 L277.3 502.8 L279.3 502.1 L281.3 501.3 L283.3 500.6 L285.3 499.9 L287.3 499.1 L289.3 498.4 L291.3 497.6 L293.3 496.9 L295.3 496.1 L297.3 495.4 L299.3 494.6 L301.3 493.9 L303.3 493.1 L305.3 492.3 L307.3 491.6 L309.3 490.8 L311.3 490.1 L313.3 489.3 L315.3 488.5 L317.3 487.8 L319.3 487.0 L321.3 486.2 L323.3 485.4 L325.3 484.7 L327.3 483.9 L329.3 483.1 L331.3 482.3 L333.3 481.5 L335.3 480.8 L337.3 480.0 L339.3 479.2 L341.3 478.4 L343.3 477.6 L345.3 476.8 L347.3 476.0 L349.3 475.2 L351.3 474.4 L353.3 473.6 L355.3 472.8 L357.3 472.0 L359.3 471.2 L361.3 470.4 L363.3 469.5 L365.3 468.7 L367.3 467.9 L369.3 467.1 L371.3 466.3 L373.3 465.5 L375.3 464.6 L377.3 463.8 L379.3 463.0 L381.3 462.1 L383.3 461.3 L385.3 460.5 L387.3 459.6 L389.3 458.8 L391.3 458.0 L393.3 457.1 L395.3 456.3 L397.3 455.4 L399.3 454.6 L401.3 453.7 L403.3 452.9 L405.3 452.0 L407.3 451.2 L409.3 450.3 L411.3 449.5 L413.3 448.6 L415.3 447.7 L417.3 446.9 L419.3 446.0 L421.3 445.1 L423.3 444.3 L425.3 443.4 L427.3 442.5 L429.3 441.6 L431.3 440.7 L433.3 439.9 L435.3 439.0 L437.3 438.1 L439.3 437.2 L441.3 436.3 L443.3 435.4 L445.3 434.6 L447.3 433.7 L449.3 432.8 L451.3 431.9 L453.3 431.0 L455.3 430.1 L457.3 429.2 L459.3 428.3 L461.3 427.4 L463.3 426.5 L465.3 425.6 L467.3 424.7 L469.3 423.7 L471.3 422.8 L473.3 421.9 L475.3 421.0 L477.3 420.1 L479.3 419.2 L481.3 418.3 L483.3 417.4 L485.3 416.4 L487.3 415.5 L489.3 414.6 L491.3 413.7 L493.3 412.8 L495.3 411.8 L497.3 410.9 L499.3 410.0 L501.3 409.1 L503.3 408.1 L505.3 407.2 L507.3 406.3 L509.3 405.4 L511.3 404.4 L513.3 403.5 L515.3 402.6 L517.3 401.7 L519.3 400.7 L521.3 399.8 L523.3 398.9 L525.3 398.0 L527.3 397.0 L529.3 396.1 L531.3 395.2 L533.3 394.3 L535.3 393.3 L537.3 392.4 L539.3 391.5 L541.3 390.6 L543.3 389.6 L545.3 388.7 L547.3 387.8 L549.3 386.9 L551.3 386.0 L553.3 385.1 L555.3 384.1 L557.3 383.2 L559.3 382.3 L561.3 381.4 L563.3 380.5 L565.3 379.6 L567.3 378.7 L569.3 377.8 L571.3 376.9 L573.3 376.0 L575.3 375.1 L577.3 374.2 L579.3 373.4 L581.3 372.5 L583.3 371.6 L585.3 370.7 L587.3 369.8 L589.3 369.0 L591.3 368.1 L593.3 367.2 L595.3 366.4 L597.3 365.5 L599.3 364.7 L601.3 363.8 L603.3 363.0 L605.3 362.2 L607.3 361.3 L609.3 360.5 L611.3 359.7 L613.3 358.9 L615.3 358.1 L617.3 357.3 L619.3 356.5 L621.3 355.7 L623.3 354.9 L625.3 354.1 L627.3 353.4 L629.3 352.6 L631.3 351.8 L633.3 351.1 L635.3 350.4 L637.3 349.6 L639.3 348.9 L641.3 348.2 L643.3 347.5 L645.3 346.8 L647.3 346.1 L649.3 345.4 L650.0 345.2 L660.0 342.3 L666.0 340.5 L671.8 339.2 L677.0 340.2 L685.4 342.6 L695.2 345.0 L710.1 347.7 L730.2 350.9 L752.2 354.0" fill="none" stroke="#006400" stroke-width="2.55" stroke-linecap="butt" stroke-linejoin="round" stroke-dasharray="19.5 8 7.5 8"/>
<path d="M119.3 570.8 L121.3 570.0 L123.3 569.3 L125.3 568.6 L127.3 567.8 L129.3 567.1 L131.3 566.3 L133.3 565.6 L135.3 564.8 L137.3 564.1 L139.3 563.3 L141.3 562.6 L143.3 561.8 L145.3 561.1 L147.3 560.3 L149.3 559.6 L151.3 558.8 L153.3 558.1 L155.3 557.3 L157.3 556.6 L159.3 555.8 L161.3 555.1 L163.3 554.3 L165.3 553.6 L167.3 552.8 L169.3 552.1 L171.3 551.3 L173.3 550.6 L175.3 549.8 L177.3 549.0 L179.3 548.3 L181.3 547.5 L183.3 546.8 L185.3 546.0 L187.3 545.2 L189.3 544.5 L191.3 543.7 L193.3 542.9 L195.3 542.2 L197.3 541.4 L199.3 540.6 L201.3 539.9 L203.3 539.1 L205.3 538.3 L207.3 537.6 L209.3 536.8 L211.3 536.0 L213.3 535.2 L215.3 534.5 L217.3 533.7 L219.3 532.9 L221.3 532.1 L223.3 531.4 L225.3 530.6 L227.3 529.8 L229.3 529.0 L231.3 528.2 L233.3 527.4 L235.3 526.7 L237.3 525.9 L239.3 525.1 L241.3 524.3 L243.3 523.5 L245.3 522.7 L247.3 521.9 L249.3 521.1 L251.3 520.3 L253.3 519.5 L255.3 518.7 L257.3 517.9 L259.3 517.1 L261.3 516.3 L263.3 515.5 L265.3 514.7 L267.3 513.9 L269.3 513.1 L271.3 512.3 L273.3 511.5 L275.3 510.7 L277.3 509.8 L279.3 509.0 L281.3 508.2 L283.3 507.4 L285.3 506.6 L287.3 505.8 L289.3 504.9 L291.3 504.1 L293.3 503.3 L295.3 502.4 L297.3 501.6 L299.3 500.8 L301.3 500.0 L303.3 499.1 L305.3 498.3 L307.3 497.4 L309.3 496.6 L311.3 495.8 L313.3 494.9 L315.3 494.1 L317.3 493.2 L319.3 492.4 L321.3 491.5 L323.3 490.7 L325.3 489.8 L327.3 489.0 L329.3 488.1 L331.3 487.2 L333.3 486.4 L335.3 485.5 L337.3 484.7 L339.3 483.8 L341.3 482.9 L343.3 482.0 L345.3 481.2 L347.3 480.3 L349.3 479.4 L351.3 478.5 L353.3 477.7 L355.3 476.8 L357.3 475.9 L359.3 475.0 L361.3 474.1 L363.3 473.2 L365.3 472.3 L367.3 471.4 L369.3 470.5 L371.3 469.6 L373.3 468.7 L375.3 467.8 L377.3 466.9 L379.3 466.0 L381.3 465.1 L383.3 464.2 L385.3 463.3 L387.3 462.3 L389.3 461.4 L391.3 460.5 L393.3 459.6 L395.3 458.6 L397.3 457.7 L399.3 456.8 L401.3 455.8 L403.3 454.9 L405.3 454.0 L407.3 453.0 L409.3 452.1 L411.3 451.1 L413.3 450.2 L415.3 449.2 L417.3 448.3 L419.3 447.3 L421.3 446.3 L423.3 445.4 L425.3 444.4 L427.3 443.5 L429.3 442.5 L431.3 441.5 L433.3 440.5 L435.3 439.6 L437.3 438.6 L439.3 437.6 L441.3 436.6 L443.3 435.6 L445.3 434.6 L447.3 433.6 L449.3 432.6 L451.3 431.6 L453.3 430.6 L455.3 429.6 L457.3 428.6 L459.3 427.6 L461.3 426.6 L463.3 425.6 L465.3 424.6 L467.3 423.5 L469.3 422.5 L471.3 421.5 L473.3 420.4 L475.3 419.4 L477.3 418.4 L479.3 417.3 L481.3 416.3 L483.3 415.2 L485.3 414.2 L487.3 413.1 L489.3 412.1 L491.3 411.0 L493.3 410.0 L495.3 408.9 L497.3 407.8 L499.3 406.8 L501.3 405.7 L503.3 404.6 L505.3 403.5 L507.3 402.4 L509.3 401.4 L511.3 400.3 L513.3 399.2 L515.3 398.1 L517.3 397.0 L519.3 395.9 L521.3 394.8 L523.3 393.7 L525.3 392.5 L527.3 391.4 L529.3 390.3 L531.3 389.2 L533.3 388.1 L535.3 386.9 L537.3 385.8 L539.3 384.7 L541.3 383.5 L543.3 382.4 L545.3 381.2 L547.3 380.1 L549.3 378.9 L551.3 377.8 L553.3 376.6 L555.3 375.4 L557.3 374.3 L559.3 373.1 L561.3 371.9 L563.3 370.7 L565.3 369.6 L567.3 368.4 L569.3 367.2 L571.3 366.0 L573.3 364.8 L575.3 363.6 L577.3 362.4 L579.3 361.2 L581.3 360.0 L583.3 358.8 L585.3 357.5 L587.3 356.3 L589.3 355.1 L591.3 353.9 L593.3 352.6 L595.3 351.4 L597.3 350.1 L599.3 348.9 L601.3 347.6 L603.3 346.4 L605.3 345.1 L607.3 343.9 L609.3 342.6 L611.3 341.3 L613.3 340.1 L615.3 338.8 L617.3 337.5 L619.3 336.2 L621.3 334.9 L623.3 333.6 L625.3 332.3 L627.3 331.0 L629.3 329.7 L631.3 328.4 L633.3 327.1 L635.3 325.8 L637.3 324.5 L639.3 323.1 L641.3 321.8 L643.3 320.5 L645.3 319.1 L646.7 318.2 L648.0 316.9 L649.5 315.4 L651.0 314.1 L652.5 312.9 L654.0 311.9 L655.5 310.9 L657.0 309.9 L658.5 308.9 L660.0 307.9 L661.5 306.8 L663.0 305.8 L664.5 304.6 L666.0 303.4 L667.5 302.0 L669.0 300.6 L670.5 299.0 L672.0 297.2 L673.5 295.3 L675.0 293.2 L676.5 290.9 L678.0 288.4 L679.5 285.8 L681.0 283.4 L682.5 280.9 L684.0 278.5 L685.5 276.2 L687.0 274.1 L688.5 272.1 L690.0 270.2 L691.5 268.4 L693.0 266.8 L694.5 265.1 L696.0 263.2 L697.5 261.2 L699.0 259.0 L700.5 256.7 L702.0 254.3 L703.5 251.9 L705.0 249.5 L706.5 247.1 L708.0 244.7 L709.5 242.4 L711.0 240.2 L712.5 238.1 L714.0 235.9 L715.5 233.8 L717.0 231.7 L718.5 229.6 L720.0 227.5 L721.5 225.4 L723.0 223.3 L724.5 221.3 L726.0 219.1 L727.5 217.0 L729.0 214.8 L730.5 212.6 L732.0 210.4 L733.5 208.1 L735.0 205.8 L736.5 203.4 L738.0 200.8 L739.5 198.2 L741.0 195.7 L742.5 193.2 L744.0 190.7 L745.5 188.3 L747.0 185.9 L748.5 183.6 L750.0 181.3 L751.5 179.0 L752.2 177.9" fill="none" stroke="#ff00ff" stroke-width="2.55" stroke-linecap="butt" stroke-linejoin="round"/>
<rect x="114.9" y="566.4" width="8.8" height="8.8" fill="#ff00ff"/>
<rect x="162.8" y="548.4" width="8.8" height="8.8" fill="#ff00ff"/>
<rect x="210.8" y="530.1" width="8.8" height="8.8" fill="#ff00ff"/>
<rect x="258.7" y="511.2" width="8.8" height="8.8" fill="#ff00ff"/>
<rect x="306.7" y="491.4" width="8.8" height="8.8" fill="#ff00ff"/>
<rect x="354.6" y="470.7" width="8.8" height="8.8" fill="#ff00ff"/>
<rect x="402.6" y="448.8" width="8.8" height="8.8" fill="#ff00ff"/>
<rect x="450.5" y="425.4" width="8.8" height="8.8" fill="#ff00ff"/>
<rect x="498.5" y="400.4" width="8.8" height="8.8" fill="#ff00ff"/>
<rect x="546.4" y="373.6" width="8.8" height="8.8" fill="#ff00ff"/>
<rect x="594.4" y="344.8" width="8.8" height="8.8" fill="#ff00ff"/>
<rect x="642.3" y="313.8" width="8.8" height="8.8" fill="#ff00ff"/>
<rect x="690.3" y="260.5" width="8.8" height="8.8" fill="#ff00ff"/>
<rect x="738.2" y="188.6" width="8.8" height="8.8" fill="#ff00ff"/>
<path d="M119.3 578.4 L121.3 577.7 L123.3 576.9 L125.3 576.1 L127.3 575.3 L129.3 574.5 L131.3 573.7 L133.3 573.0 L135.3 572.2 L137.3 571.4 L139.3 570.6 L141.3 569.8 L143.3 569.0 L145.3 568.2 L147.3 567.4 L149.3 566.6 L151.3 565.8 L153.3 565.0 L155.3 564.2 L157.3 563.4 L159.3 562.6 L161.3 561.8 L163.3 561.0 L165.3 560.2 L167.3 559.4 L169.3 558.6 L171.3 557.8 L173.3 557.0 L175.3 556.2 L177.3 555.4 L179.3 554.6 L181.3 553.8 L183.3 553.0 L185.3 552.2 L187.3 551.4 L189.3 550.6 L191.3 549.7 L193.3 548.9 L195.3 548.1 L197.3 547.3 L199.3 546.5 L201.3 545.7 L203.3 544.8 L205.3 544.0 L207.3 543.2 L209.3 542.4 L211.3 541.5 L213.3 540.7 L215.3 539.9 L217.3 539.1 L219.3 538.2 L221.3 537.4 L223.3 536.6 L225.3 535.7 L227.3 534.9 L229.3 534.0 L231.3 533.2 L233.3 532.4 L235.3 531.5 L237.3 530.7 L239.3 529.8 L241.3 529.0 L243.3 528.1 L245.3 527.3 L247.3 526.4 L249.3 525.6 L251.3 524.7 L253.3 523.9 L255.3 523.0 L257.3 522.2 L259.3 521.3 L261.3 520.4 L263.3 519.6 L265.3 518.7 L267.3 517.9 L269.3 517.0 L271.3 516.1 L273.3 515.2 L275.3 514.4 L277.3 513.5 L279.3 512.6 L281.3 511.7 L283.3 510.9 L285.3 510.0 L287.3 509.1 L289.3 508.2 L291.3 507.3 L293.3 506.5 L295.3 505.6 L297.3 504.7 L299.3 503.8 L301.3 502.9 L303.3 502.0 L305.3 501.1 L307.3 500.2 L309.3 499.3 L311.3 498.4 L313.3 497.5 L315.3 496.6 L317.3 495.7 L319.3 494.8 L321.3 493.8 L323.3 492.9 L325.3 492.0 L327.3 491.1 L329.3 490.2 L331.3 489.3 L333.3 488.3 L335.3 487.4 L337.3 486.5 L339.3 485.5 L341.3 484.6 L343.3 483.7 L345.3 482.7 L347.3 481.8 L349.3 480.9 L351.3 479.9 L353.3 479.0 L355.3 478.0 L357.3 477.1 L359.3 476.1 L361.3 475.2 L363.3 474.2 L365.3 473.3 L367.3 472.3 L369.3 471.3 L371.3 470.4 L373.3 469.4 L375.3 468.4 L377.3 467.5 L379.3 466.5 L381.3 465.5 L383.3 464.5 L385.3 463.6 L387.3 462.6 L389.3 461.6 L391.3 460.6 L393.3 459.6 L395.3 458.6 L397.3 457.6 L399.3 456.6 L401.3 455.6 L403.3 454.6 L405.3 453.6 L407.3 452.6 L409.3 451.6 L411.3 450.6 L413.3 449.6 L415.3 448.6 L417.3 447.6 L419.3 446.5 L421.3 445.5 L423.3 444.5 L425.3 443.5 L427.3 442.4 L429.3 441.4 L431.3 440.4 L433.3 439.3 L435.3 438.3 L437.3 437.2 L439.3 436.2 L441.3 435.1 L443.3 434.1 L445.3 433.0 L447.3 432.0 L449.3 430.9 L451.3 429.9 L453.3 428.8 L455.3 427.7 L457.3 426.7 L459.3 425.6 L461.3 424.5 L463.3 423.4 L465.3 422.4 L467.3 421.3 L469.3 420.2 L471.3 419.1 L473.3 418.0 L475.3 416.9 L477.3 415.8 L479.3 414.7 L481.3 413.6 L483.3 412.5 L485.3 411.4 L487.3 410.3 L489.3 409.1 L491.3 408.0 L493.3 406.9 L495.3 405.8 L497.3 404.6 L499.3 403.5 L501.3 402.4 L503.3 401.2 L505.3 400.1 L507.3 398.9 L509.3 397.8 L511.3 396.6 L513.3 395.4 L515.3 394.3 L517.3 393.1 L519.3 391.9 L521.3 390.8 L523.3 389.6 L525.3 388.4 L527.3 387.2 L529.3 386.0 L531.3 384.8 L533.3 383.6 L535.3 382.4 L537.3 381.1 L539.3 379.9 L541.3 378.7 L543.3 377.5 L545.3 376.2 L547.3 375.0 L549.3 373.7 L551.3 372.5 L553.3 371.2 L555.3 369.9 L557.3 368.7 L559.3 367.4 L561.3 366.1 L563.3 364.8 L565.3 363.5 L567.3 362.2 L569.3 360.9 L571.3 359.6 L573.3 358.3 L575.3 357.0 L577.3 355.7 L579.3 354.3 L581.3 353.0 L583.3 351.6 L585.3 350.3 L587.3 348.9 L589.3 347.5 L591.3 346.2 L593.3 344.8 L595.3 343.4 L597.3 342.0 L599.3 340.6 L601.3 339.2 L603.3 337.8 L605.3 336.4 L607.3 334.9 L609.3 333.5 L611.3 332.0 L613.3 330.6 L615.3 329.1 L617.3 327.7 L619.3 326.2 L621.3 324.7 L623.3 323.2 L625.3 321.7 L627.3 320.2 L629.3 318.7 L631.3 317.2 L633.3 315.7 L635.3 314.1 L637.3 312.6 L639.3 311.0 L641.3 309.5 L643.3 307.9 L645.3 306.3 L647.3 304.7 L649.3 303.1 L651.3 301.5 L653.3 299.9 L655.3 298.3 L657.3 296.6 L659.3 295.0 L661.3 293.3 L663.3 291.6 L665.3 289.9 L667.3 288.2 L669.3 286.4 L671.3 284.7 L673.3 282.9 L675.3 281.1 L677.3 279.2 L679.3 277.3 L681.3 275.4 L683.3 273.5 L685.3 271.6 L687.3 269.6 L689.3 267.5 L691.3 265.5 L693.3 263.4 L695.3 261.3 L697.3 259.1 L699.3 256.9 L701.3 254.7 L703.3 252.4 L705.3 250.1 L707.3 247.7 L709.3 245.3 L711.3 242.8 L713.3 240.3 L715.3 237.8 L717.3 235.2 L719.3 232.5 L721.3 229.8 L723.3 227.1 L725.3 224.3 L727.3 221.4 L729.3 218.5 L731.3 215.5 L733.3 212.5 L735.3 209.5 L737.3 206.3 L739.3 203.1 L741.3 199.9 L743.3 196.6 L745.3 193.2 L747.3 189.8 L749.3 186.3 L751.3 182.8 L752.2 181.1" fill="none" stroke="#00ffff" stroke-width="2.55" stroke-linecap="butt" stroke-linejoin="round"/>
<path d="M114.9 574.0 L123.7 582.8 M114.9 582.8 L123.7 574.0" stroke="#00ffff" stroke-width="2.5" fill="none"/>
<path d="M162.8 555.1 L171.6 563.9 M162.8 563.9 L171.6 555.1" stroke="#00ffff" stroke-width="2.5" fill="none"/>
<path d="M210.8 535.5 L219.6 544.3 M210.8 544.3 L219.6 535.5" stroke="#00ffff" stroke-width="2.5" fill="none"/>
<path d="M258.7 515.3 L267.5 524.1 M258.7 524.1 L267.5 515.3" stroke="#00ffff" stroke-width="2.5" fill="none"/>
<path d="M306.7 494.1 L315.5 502.9 M306.7 502.9 L315.5 494.1" stroke="#00ffff" stroke-width="2.5" fill="none"/>
<path d="M354.6 471.9 L363.4 480.7 M354.6 480.7 L363.4 471.9" stroke="#00ffff" stroke-width="2.5" fill="none"/>
<path d="M402.6 448.4 L411.4 457.2 M402.6 457.2 L411.4 448.4" stroke="#00ffff" stroke-width="2.5" fill="none"/>
<path d="M450.5 423.5 L459.3 432.3 M450.5 432.3 L459.3 423.5" stroke="#00ffff" stroke-width="2.5" fill="none"/>
<path d="M498.5 397.1 L507.3 405.9 M498.5 405.9 L507.3 397.1" stroke="#00ffff" stroke-width="2.5" fill="none"/>
<path d="M546.4 368.4 L555.2 377.2 M546.4 377.2 L555.2 368.4" stroke="#00ffff" stroke-width="2.5" fill="none"/>
<path d="M594.4 336.6 L603.2 345.4 M594.4 345.4 L603.2 336.6" stroke="#00ffff" stroke-width="2.5" fill="none"/>
<path d="M642.3 300.8 L651.1 309.6 M642.3 309.6 L651.1 300.8" stroke="#00ffff" stroke-width="2.5" fill="none"/>
<path d="M690.3 257.5 L699.1 266.3 M690.3 266.3 L699.1 257.5" stroke="#00ffff" stroke-width="2.5" fill="none"/>
<path d="M738.2 193.3 L747.0 202.1 M738.2 202.1 L747.0 193.3" stroke="#00ffff" stroke-width="2.5" fill="none"/>
<rect x="430.4" y="486.9" width="10.6" height="10.6" fill="#7a0000" stroke="#6e0000" stroke-width="0.6"/>
<rect x="190.7" y="636.1" width="10.6" height="10.6" fill="#7a0000" stroke="#6e0000" stroke-width="0.6"/>
<path transform="translate(96.80 54.60)" d="M-14.51 -18.27 L-12.90 -19.35 L-9.68 -22.57 L-9.68 0.00M-10.75 -21.50 L-10.75 0.00M-14.51 0.00 L-6.99 0.00" fill="none" stroke="#000" stroke-width="2.50" stroke-linecap="round" stroke-linejoin="round"/>
<path transform="translate(96.80 195.34)" d="M-44.08 -22.57 L-47.30 -21.50 L-49.45 -18.27 L-50.52 -12.90 L-50.52 -9.67 L-49.45 -4.30 L-47.30 -1.07 L-44.08 0.00 L-41.92 0.00 L-38.70 -1.07 L-36.55 -4.30 L-35.48 -9.67 L-35.48 -12.90 L-36.55 -18.27 L-38.70 -21.50 L-41.92 -22.57 L-44.08 -22.57M-44.08 -22.57 L-46.23 -21.50 L-47.30 -20.43 L-48.38 -18.27 L-49.45 -12.90 L-49.45 -9.67 L-48.38 -4.30 L-47.30 -2.15 L-46.23 -1.07 L-44.08 0.00M-41.92 0.00 L-39.77 -1.07 L-38.70 -2.15 L-37.62 -4.30 L-36.55 -9.67 L-36.55 -12.90 L-37.62 -18.27 L-38.70 -20.43 L-39.77 -21.50 L-41.92 -22.57M-26.88 -2.15 L-27.95 -1.07 L-26.88 0.00 L-25.80 -1.07 L-26.88 -2.15M-12.90 -22.57 L-16.12 -21.50 L-17.20 -19.35 L-17.20 -16.12 L-16.12 -13.97 L-12.90 -12.90 L-8.60 -12.90 L-5.38 -13.97 L-4.30 -16.12 L-4.30 -19.35 L-5.38 -21.50 L-8.60 -22.57 L-12.90 -22.57M-12.90 -22.57 L-15.05 -21.50 L-16.12 -19.35 L-16.12 -16.12 L-15.05 -13.97 L-12.90 -12.90M-8.60 -12.90 L-6.45 -13.97 L-5.38 -16.12 L-5.38 -19.35 L-6.45 -21.50 L-8.60 -22.57M-12.90 -12.90 L-16.12 -11.82 L-17.20 -10.75 L-18.27 -8.60 L-18.27 -4.30 L-17.20 -2.15 L-16.12 -1.07 L-12.90 0.00 L-8.60 0.00 L-5.38 -1.07 L-4.30 -2.15 L-3.23 -4.30 L-3.23 -8.60 L-4.30 -10.75 L-5.38 -11.82 L-8.60 -12.90M-12.90 -12.90 L-15.05 -11.82 L-16.12 -10.75 L-17.20 -8.60 L-17.20 -4.30 L-16.12 -2.15 L-15.05 -1.07 L-12.90 0.00M-8.60 0.00 L-6.45 -1.07 L-5.38 -2.15 L-4.30 -4.30 L-4.30 -8.60 L-5.38 -10.75 L-6.45 -11.82 L-8.60 -12.90" fill="none" stroke="#000" stroke-width="2.50" stroke-linecap="round" stroke-linejoin="round"/>
<path transform="translate(96.80 336.07)" d="M-44.08 -22.57 L-47.30 -21.50 L-49.45 -18.27 L-50.52 -12.90 L-50.52 -9.67 L-49.45 -4.30 L-47.30 -1.07 L-44.08 0.00 L-41.92 0.00 L-38.70 -1.07 L-36.55 -4.30 L-35.48 -9.67 L-35.48 -12.90 L-36.55 -18.27 L-38.70 -21.50 L-41.92 -22.57 L-44.08 -22.57M-44.08 -22.57 L-46.23 -21.50 L-47.30 -20.43 L-48.38 -18.27 L-49.45 -12.90 L-49.45 -9.67 L-48.38 -4.30 L-47.30 -2.15 L-46.23 -1.07 L-44.08 0.00M-41.92 0.00 L-39.77 -1.07 L-38.70 -2.15 L-37.62 -4.30 L-36.55 -9.67 L-36.55 -12.90 L-37.62 -18.27 L-38.70 -20.43 L-39.77 -21.50 L-41.92 -22.57M-26.88 -2.15 L-27.95 -1.07 L-26.88 0.00 L-25.80 -1.07 L-26.88 -2.15M-5.38 -19.35 L-6.45 -18.27 L-5.38 -17.20 L-4.30 -18.27 L-4.30 -19.35 L-5.38 -21.50 L-7.52 -22.57 L-10.75 -22.57 L-13.98 -21.50 L-16.12 -19.35 L-17.20 -17.20 L-18.27 -12.90 L-18.27 -6.45 L-17.20 -3.22 L-15.05 -1.07 L-11.83 0.00 L-9.68 0.00 L-6.45 -1.07 L-4.30 -3.22 L-3.23 -6.45 L-3.23 -7.52 L-4.30 -10.75 L-6.45 -12.90 L-9.68 -13.97 L-10.75 -13.97 L-13.98 -12.90 L-16.12 -10.75 L-17.20 -7.52M-10.75 -22.57 L-12.90 -21.50 L-15.05 -19.35 L-16.12 -17.20 L-17.20 -12.90 L-17.20 -6.45 L-16.12 -3.22 L-13.98 -1.07 L-11.83 0.00M-9.68 0.00 L-7.52 -1.07 L-5.38 -3.22 L-4.30 -6.45 L-4.30 -7.52 L-5.38 -10.75 L-7.52 -12.90 L-9.68 -13.97" fill="none" stroke="#000" stroke-width="2.50" stroke-linecap="round" stroke-linejoin="round"/>
<path transform="translate(96.80 476.81)" d="M-44.08 -22.57 L-47.30 -21.50 L-49.45 -18.27 L-50.52 -12.90 L-50.52 -9.67 L-49.45 -4.30 L-47.30 -1.07 L-44.08 0.00 L-41.92 0.00 L-38.70 -1.07 L-36.55 -4.30 L-35.48 -9.67 L-35.48 -12.90 L-36.55 -18.27 L-38.70 -21.50 L-41.92 -22.57 L-44.08 -22.57M-44.08 -22.57 L-46.23 -21.50 L-47.30 -20.43 L-48.38 -18.27 L-49.45 -12.90 L-49.45 -9.67 L-48.38 -4.30 L-47.30 -2.15 L-46.23 -1.07 L-44.08 0.00M-41.92 0.00 L-39.77 -1.07 L-38.70 -2.15 L-37.62 -4.30 L-36.55 -9.67 L-36.55 -12.90 L-37.62 -18.27 L-38.70 -20.43 L-39.77 -21.50 L-41.92 -22.57M-26.88 -2.15 L-27.95 -1.07 L-26.88 0.00 L-25.80 -1.07 L-26.88 -2.15M-8.60 -20.43 L-8.60 0.00M-7.52 -22.57 L-7.52 0.00M-7.52 -22.57 L-19.35 -6.45 L-2.15 -6.45M-11.83 0.00 L-4.30 0.00" fill="none" stroke="#000" stroke-width="2.50" stroke-linecap="round" stroke-linejoin="round"/>
<path transform="translate(96.80 617.55)" d="M-44.08 -22.57 L-47.30 -21.50 L-49.45 -18.27 L-50.52 -12.90 L-50.52 -9.67 L-49.45 -4.30 L-47.30 -1.07 L-44.08 0.00 L-41.92 0.00 L-38.70 -1.07 L-36.55 -4.30 L-35.48 -9.67 L-35.48 -12.90 L-36.55 -18.27 L-38.70 -21.50 L-41.92 -22.57 L-44.08 -22.57M-44.08 -22.57 L-46.23 -21.50 L-47.30 -20.43 L-48.38 -18.27 L-49.45 -12.90 L-49.45 -9.67 L-48.38 -4.30 L-47.30 -2.15 L-46.23 -1.07 L-44.08 0.00M-41.92 0.00 L-39.77 -1.07 L-38.70 -2.15 L-37.62 -4.30 L-36.55 -9.67 L-36.55 -12.90 L-37.62 -18.27 L-38.70 -20.43 L-39.77 -21.50 L-41.92 -22.57M-26.88 -2.15 L-27.95 -1.07 L-26.88 0.00 L-25.80 -1.07 L-26.88 -2.15M-17.20 -18.27 L-16.12 -17.20 L-17.20 -16.12 L-18.27 -17.20 L-18.27 -18.27 L-17.20 -20.43 L-16.12 -21.50 L-12.90 -22.57 L-8.60 -22.57 L-5.38 -21.50 L-4.30 -20.43 L-3.23 -18.27 L-3.23 -16.12 L-4.30 -13.97 L-7.52 -11.82 L-12.90 -9.67 L-15.05 -8.60 L-17.20 -6.45 L-18.27 -3.22 L-18.27 0.00M-8.60 -22.57 L-6.45 -21.50 L-5.38 -20.43 L-4.30 -18.27 L-4.30 -16.12 L-5.38 -13.97 L-8.60 -11.82 L-12.90 -9.67M-18.27 -2.15 L-17.20 -3.22 L-15.05 -3.22 L-9.68 -1.07 L-6.45 -1.07 L-4.30 -2.15 L-3.23 -3.22M-15.05 -3.22 L-9.68 0.00 L-5.38 0.00 L-4.30 -1.07 L-3.23 -3.22 L-3.23 -5.38" fill="none" stroke="#000" stroke-width="2.50" stroke-linecap="round" stroke-linejoin="round"/>
<path transform="translate(116.10 753.40)" d="M-19.51 -9.67 L-1.99 -9.67M10.21 -18.27 L11.82 -19.35 L15.05 -22.57 L15.05 0.00M13.97 -21.50 L13.97 0.00M10.21 0.00 L17.74 0.00" fill="none" stroke="#000" stroke-width="2.50" stroke-linecap="round" stroke-linejoin="round"/>
<path transform="translate(275.92 753.40)" d="M-35.64 -9.67 L-18.11 -9.67M-3.23 -22.57 L-6.45 -21.50 L-8.60 -18.27 L-9.68 -12.90 L-9.68 -9.67 L-8.60 -4.30 L-6.45 -1.07 L-3.23 0.00 L-1.08 0.00 L2.15 -1.07 L4.30 -4.30 L5.38 -9.67 L5.38 -12.90 L4.30 -18.27 L2.15 -21.50 L-1.08 -22.57 L-3.23 -22.57M-3.23 -22.57 L-5.38 -21.50 L-6.45 -20.43 L-7.53 -18.27 L-8.60 -12.90 L-8.60 -9.67 L-7.53 -4.30 L-6.45 -2.15 L-5.38 -1.07 L-3.23 0.00M-1.08 0.00 L1.07 -1.07 L2.15 -2.15 L3.22 -4.30 L4.30 -9.67 L4.30 -12.90 L3.22 -18.27 L2.15 -20.43 L1.07 -21.50 L-1.08 -22.57M13.97 -2.15 L12.90 -1.07 L13.97 0.00 L15.05 -1.07 L13.97 -2.15M24.73 -22.57 L22.57 -11.82M22.57 -11.82 L24.73 -13.97 L27.95 -15.05 L31.17 -15.05 L34.40 -13.97 L36.55 -11.82 L37.62 -8.60 L37.62 -6.45 L36.55 -3.22 L34.40 -1.07 L31.17 0.00 L27.95 0.00 L24.73 -1.07 L23.65 -2.15 L22.57 -4.30 L22.57 -5.38 L23.65 -6.45 L24.73 -5.38 L23.65 -4.30M31.17 -15.05 L33.32 -13.97 L35.48 -11.82 L36.55 -8.60 L36.55 -6.45 L35.48 -3.22 L33.32 -1.07 L31.17 0.00M24.73 -22.57 L35.48 -22.57M24.73 -21.50 L30.10 -21.50 L35.48 -22.57" fill="none" stroke="#000" stroke-width="2.50" stroke-linecap="round" stroke-linejoin="round"/>
<path transform="translate(435.75 753.40)" d="M-1.08 -22.57 L-4.30 -21.50 L-6.45 -18.27 L-7.53 -12.90 L-7.53 -9.67 L-6.45 -4.30 L-4.30 -1.07 L-1.08 0.00 L1.07 0.00 L4.30 -1.07 L6.45 -4.30 L7.52 -9.67 L7.52 -12.90 L6.45 -18.27 L4.30 -21.50 L1.07 -22.57 L-1.08 -22.57M-1.08 -22.57 L-3.23 -21.50 L-4.30 -20.43 L-5.38 -18.27 L-6.45 -12.90 L-6.45 -9.67 L-5.38 -4.30 L-4.30 -2.15 L-3.23 -1.07 L-1.08 0.00M1.07 0.00 L3.22 -1.07 L4.30 -2.15 L5.38 -4.30 L6.45 -9.67 L6.45 -12.90 L5.38 -18.27 L4.30 -20.43 L3.22 -21.50 L1.07 -22.57" fill="none" stroke="#000" stroke-width="2.50" stroke-linecap="round" stroke-linejoin="round"/>
<path transform="translate(595.57 753.40)" d="M-17.20 -22.57 L-20.43 -21.50 L-22.57 -18.27 L-23.65 -12.90 L-23.65 -9.67 L-22.57 -4.30 L-20.43 -1.07 L-17.20 0.00 L-15.05 0.00 L-11.83 -1.07 L-9.68 -4.30 L-8.60 -9.67 L-8.60 -12.90 L-9.68 -18.27 L-11.83 -21.50 L-15.05 -22.57 L-17.20 -22.57M-17.20 -22.57 L-19.35 -21.50 L-20.43 -20.43 L-21.50 -18.27 L-22.57 -12.90 L-22.57 -9.67 L-21.50 -4.30 L-20.43 -2.15 L-19.35 -1.07 L-17.20 0.00M-15.05 0.00 L-12.90 -1.07 L-11.83 -2.15 L-10.75 -4.30 L-9.68 -9.67 L-9.68 -12.90 L-10.75 -18.27 L-11.83 -20.43 L-12.90 -21.50 L-15.05 -22.57M0.00 -2.15 L-1.08 -1.07 L0.00 0.00 L1.07 -1.07 L0.00 -2.15M10.75 -22.57 L8.60 -11.82M8.60 -11.82 L10.75 -13.97 L13.98 -15.05 L17.20 -15.05 L20.42 -13.97 L22.57 -11.82 L23.65 -8.60 L23.65 -6.45 L22.57 -3.22 L20.42 -1.07 L17.20 0.00 L13.98 0.00 L10.75 -1.07 L9.67 -2.15 L8.60 -4.30 L8.60 -5.38 L9.67 -6.45 L10.75 -5.38 L9.67 -4.30M17.20 -15.05 L19.35 -13.97 L21.50 -11.82 L22.57 -8.60 L22.57 -6.45 L21.50 -3.22 L19.35 -1.07 L17.20 0.00M10.75 -22.57 L21.50 -22.57M10.75 -21.50 L16.12 -21.50 L21.50 -22.57" fill="none" stroke="#000" stroke-width="2.50" stroke-linecap="round" stroke-linejoin="round"/>
<path transform="translate(755.40 753.40)" d="M-3.76 -18.27 L-2.15 -19.35 L1.07 -22.57 L1.07 0.00M0.00 -21.50 L0.00 0.00M-3.76 0.00 L3.76 0.00" fill="none" stroke="#000" stroke-width="2.50" stroke-linecap="round" stroke-linejoin="round"/>
<path transform="translate(435.55 786.95)" d="M-7.26 -15.40 L-5.19 -15.40 L-3.11 -14.30 L-2.07 -12.10 L3.11 4.40 L4.15 6.60 L5.19 7.70M-5.19 -15.40 L-4.15 -14.30 L-3.11 -12.10 L2.08 4.40 L3.11 6.60 L5.19 7.70 L7.26 7.70M8.30 -15.40 L7.26 -13.20 L5.19 -9.90 L-5.19 2.20 L-7.26 5.50 L-8.30 7.70" fill="none" stroke="#000" stroke-width="2.50" stroke-linecap="round" stroke-linejoin="round"/>
<path transform="translate(27.00 421.30) rotate(-90)" d="M0.00 -3.30 L1.15 0.00 L5.75 0.00 L3.45 -4.40 L1.15 -8.80 L0.00 -12.10 L0.00 -16.50 L1.15 -19.80 L3.45 -22.00 L6.90 -23.10 L11.50 -23.10 L14.95 -22.00 L17.25 -19.80 L18.40 -16.50 L18.40 -12.10 L17.25 -8.80 L14.95 -4.40 L12.65 0.00 L17.25 0.00 L18.40 -3.30M3.45 -4.40 L2.30 -7.70 L1.15 -12.10 L1.15 -16.50 L2.30 -19.80 L4.60 -22.00 L6.90 -23.10M11.50 -23.10 L13.80 -22.00 L16.10 -19.80 L17.25 -16.50 L17.25 -12.10 L16.10 -7.70 L14.95 -4.40M1.15 -1.10 L4.60 -1.10M13.80 -1.10 L17.25 -1.10" fill="none" stroke="#000" stroke-width="2.50" stroke-linecap="round" stroke-linejoin="round"/>
<path transform="translate(37.50 397.40) rotate(-90)" d="M0.61 -11.66 L1.21 -10.98 L0.61 -10.29 L0.00 -10.98 L0.00 -11.66 L0.61 -13.03 L1.21 -13.72 L3.03 -14.41 L5.45 -14.41 L7.27 -13.72 L7.88 -13.03 L8.48 -11.66 L8.48 -10.29 L7.88 -8.92 L6.06 -7.55 L3.03 -6.17 L1.82 -5.49 L0.61 -4.12 L0.00 -2.06 L0.00 0.00M5.45 -14.41 L6.67 -13.72 L7.27 -13.03 L7.88 -11.66 L7.88 -10.29 L7.27 -8.92 L5.45 -7.55 L3.03 -6.17M0.00 -1.37 L0.61 -2.06 L1.82 -2.06 L4.85 -0.69 L6.67 -0.69 L7.88 -1.37 L8.48 -2.06M1.82 -2.06 L4.85 0.00 L7.27 0.00 L7.88 -0.69 L8.48 -2.06 L8.48 -3.43M12.73 -11.66 L13.33 -10.98 L12.73 -10.29 L12.12 -10.98 L12.12 -11.66 L12.73 -13.03 L13.33 -13.72 L15.15 -14.41 L17.57 -14.41 L19.39 -13.72 L20.00 -13.03 L20.60 -11.66 L20.60 -10.29 L20.00 -8.92 L18.18 -7.55 L15.15 -6.17 L13.94 -5.49 L12.73 -4.12 L12.12 -2.06 L12.12 0.00M17.57 -14.41 L18.79 -13.72 L19.39 -13.03 L20.00 -11.66 L20.00 -10.29 L19.39 -8.92 L17.57 -7.55 L15.15 -6.17M12.12 -1.37 L12.73 -2.06 L13.94 -2.06 L16.97 -0.69 L18.79 -0.69 L20.00 -1.37 L20.60 -2.06M13.94 -2.06 L16.97 0.00 L19.39 0.00 L20.00 -0.69 L20.60 -2.06 L20.60 -3.43" fill="none" stroke="#000" stroke-width="2.20" stroke-linecap="round" stroke-linejoin="round"/>
<path transform="translate(27.00 355.00) rotate(-90)" d="M2.91 -23.10 L2.91 0.00M3.88 -23.10 L9.70 -3.30M2.91 -23.10 L9.70 0.00M16.49 -23.10 L9.70 0.00M16.49 -23.10 L16.49 0.00M17.46 -23.10 L17.46 0.00M0.00 -23.10 L3.88 -23.10M16.49 -23.10 L20.37 -23.10M0.00 0.00 L5.82 0.00M13.58 0.00 L20.37 0.00" fill="none" stroke="#000" stroke-width="2.50" stroke-linecap="round" stroke-linejoin="round"/>
<path transform="translate(246.30 101.30)" d="M2.05 -14.34 L2.05 0.00M2.73 -14.34 L2.73 0.00M6.83 -10.25 L6.83 -4.78M0.00 -14.34 L10.93 -14.34 L10.93 -10.25 L10.25 -14.34M2.73 -7.51 L6.83 -7.51M0.00 0.00 L10.93 0.00 L10.93 -4.10 L10.25 0.00M19.81 -14.34 L17.76 -13.66 L16.39 -12.29 L15.71 -10.93 L15.03 -8.20 L15.03 -6.15 L15.71 -3.42 L16.39 -2.05 L17.76 -0.68 L19.81 0.00 L21.17 0.00 L23.22 -0.68 L24.59 -2.05 L25.27 -3.42 L25.95 -6.15 L25.95 -8.20 L25.27 -10.93 L24.59 -12.29 L23.22 -13.66 L21.17 -14.34 L19.81 -14.34M19.81 -14.34 L18.44 -13.66 L17.08 -12.29 L16.39 -10.93 L15.71 -8.20 L15.71 -6.15 L16.39 -3.42 L17.08 -2.05 L18.44 -0.68 L19.81 0.00M21.17 0.00 L22.54 -0.68 L23.91 -2.05 L24.59 -3.42 L25.27 -6.15 L25.27 -8.20 L24.59 -10.93 L23.91 -12.29 L22.54 -13.66 L21.17 -14.34M31.42 -14.34 L31.42 0.00M32.10 -14.34 L32.10 0.00M29.37 -14.34 L37.57 -14.34 L39.61 -13.66 L40.30 -12.98 L40.98 -11.61 L40.98 -10.25 L40.30 -8.88 L39.61 -8.20 L37.57 -7.51M37.57 -14.34 L38.93 -13.66 L39.61 -12.98 L40.30 -11.61 L40.30 -10.25 L39.61 -8.88 L38.93 -8.20 L37.57 -7.51M32.10 -7.51 L37.57 -7.51 L39.61 -6.83 L40.30 -6.15 L40.98 -4.78 L40.98 -2.73 L40.30 -1.37 L39.61 -0.68 L37.57 0.00 L29.37 0.00M37.57 -7.51 L38.93 -6.83 L39.61 -6.15 L40.30 -4.78 L40.30 -2.73 L39.61 -1.37 L38.93 -0.68 L37.57 0.00" fill="none" stroke="#000" stroke-width="1.90" stroke-linecap="round" stroke-linejoin="round"/>
<path transform="translate(182.10 129.40)" d="M4.78 -14.34 L2.73 -13.66 L1.37 -12.29 L0.68 -10.93 L0.00 -8.20 L0.00 -6.15 L0.68 -3.42 L1.37 -2.05 L2.73 -0.68 L4.78 0.00 L6.15 0.00 L8.20 -0.68 L9.56 -2.05 L10.25 -3.42 L10.93 -6.15 L10.93 -8.20 L10.25 -10.93 L9.56 -12.29 L8.20 -13.66 L6.15 -14.34 L4.78 -14.34M4.78 -14.34 L3.42 -13.66 L2.05 -12.29 L1.37 -10.93 L0.68 -8.20 L0.68 -6.15 L1.37 -3.42 L2.05 -2.05 L3.42 -0.68 L4.78 0.00M6.15 0.00 L7.51 -0.68 L8.88 -2.05 L9.56 -3.42 L10.25 -6.15 L10.25 -8.20 L9.56 -10.93 L8.88 -12.29 L7.51 -13.66 L6.15 -14.34M2.73 -1.37 L2.73 -2.05 L3.42 -3.42 L4.78 -4.10 L5.46 -4.10 L6.83 -3.42 L7.51 -2.05 L8.20 2.73 L8.88 3.42 L10.25 3.42 L10.93 2.05 L10.93 1.37M7.51 -2.05 L8.20 0.68 L8.88 2.05 L9.56 2.73 L10.25 2.73 L10.93 2.05M16.39 -14.34 L16.39 0.00M17.08 -14.34 L25.27 -1.37M17.08 -12.98 L25.27 0.00M25.27 -14.34 L25.27 0.00M14.34 -14.34 L17.08 -14.34M23.22 -14.34 L27.32 -14.34M14.34 0.00 L18.44 0.00M32.10 -14.34 L32.10 0.00M32.78 -14.34 L36.88 -2.05M32.10 -14.34 L36.88 0.00M41.66 -14.34 L36.88 0.00M41.66 -14.34 L41.66 0.00M42.35 -14.34 L42.35 0.00M30.05 -14.34 L32.78 -14.34M41.66 -14.34 L44.40 -14.34M30.05 0.00 L34.15 0.00M39.61 0.00 L44.40 0.00" fill="none" stroke="#000" stroke-width="1.90" stroke-linecap="round" stroke-linejoin="round"/>
<path transform="translate(242.40 129.40)" d="M4.91 -17.08 L3.51 -15.71 L2.10 -13.66 L0.70 -10.93 L0.00 -7.51 L0.00 -4.78 L0.70 -1.37 L2.10 1.37 L3.51 3.42 L4.91 4.78M3.51 -15.71 L2.10 -12.98 L1.40 -10.93 L0.70 -7.51 L0.70 -4.78 L1.40 -1.37 L2.10 0.68 L3.51 3.42M10.52 -9.56 L10.52 0.00M11.22 -9.56 L11.22 0.00M11.22 -7.51 L12.62 -8.88 L14.72 -9.56 L16.13 -9.56 L18.23 -8.88 L18.93 -7.51 L18.93 0.00M16.13 -9.56 L17.53 -8.88 L18.23 -7.51 L18.23 0.00M8.41 -9.56 L11.22 -9.56M8.41 0.00 L13.32 0.00M16.13 0.00 L21.03 0.00M25.73 -8.06 L37.37 -8.06M25.73 -4.23 L37.37 -4.23M46.98 -14.34 L44.87 -13.66 L43.47 -11.61 L42.77 -8.20 L42.77 -6.15 L43.47 -2.73 L44.87 -0.68 L46.98 0.00 L48.38 0.00 L50.48 -0.68 L51.88 -2.73 L52.59 -6.15 L52.59 -8.20 L51.88 -11.61 L50.48 -13.66 L48.38 -14.34 L46.98 -14.34M46.98 -14.34 L45.57 -13.66 L44.87 -12.98 L44.17 -11.61 L43.47 -8.20 L43.47 -6.15 L44.17 -2.73 L44.87 -1.37 L45.57 -0.68 L46.98 0.00M48.38 0.00 L49.78 -0.68 L50.48 -1.37 L51.18 -2.73 L51.88 -6.15 L51.88 -8.20 L51.18 -11.61 L50.48 -12.98 L49.78 -13.66 L48.38 -14.34M56.79 -17.08 L58.19 -15.71 L59.60 -13.66 L61.00 -10.93 L61.70 -7.51 L61.70 -4.78 L61.00 -1.37 L59.60 1.37 L58.19 3.42 L56.79 4.78M58.19 -15.71 L59.60 -12.98 L60.30 -10.93 L61.00 -7.51 L61.00 -4.78 L60.30 -1.37 L59.60 0.68 L58.19 3.42" fill="none" stroke="#000" stroke-width="1.90" stroke-linecap="round" stroke-linejoin="round"/>
<path transform="translate(182.10 157.56)" d="M4.78 -14.34 L2.73 -13.66 L1.37 -12.29 L0.68 -10.93 L0.00 -8.20 L0.00 -6.15 L0.68 -3.42 L1.37 -2.05 L2.73 -0.68 L4.78 0.00 L6.15 0.00 L8.20 -0.68 L9.56 -2.05 L10.25 -3.42 L10.93 -6.15 L10.93 -8.20 L10.25 -10.93 L9.56 -12.29 L8.20 -13.66 L6.15 -14.34 L4.78 -14.34M4.78 -14.34 L3.42 -13.66 L2.05 -12.29 L1.37 -10.93 L0.68 -8.20 L0.68 -6.15 L1.37 -3.42 L2.05 -2.05 L3.42 -0.68 L4.78 0.00M6.15 0.00 L7.51 -0.68 L8.88 -2.05 L9.56 -3.42 L10.25 -6.15 L10.25 -8.20 L9.56 -10.93 L8.88 -12.29 L7.51 -13.66 L6.15 -14.34M2.73 -1.37 L2.73 -2.05 L3.42 -3.42 L4.78 -4.10 L5.46 -4.10 L6.83 -3.42 L7.51 -2.05 L8.20 2.73 L8.88 3.42 L10.25 3.42 L10.93 2.05 L10.93 1.37M7.51 -2.05 L8.20 0.68 L8.88 2.05 L9.56 2.73 L10.25 2.73 L10.93 2.05M16.39 -14.34 L16.39 0.00M17.08 -14.34 L25.27 -1.37M17.08 -12.98 L25.27 0.00M25.27 -14.34 L25.27 0.00M14.34 -14.34 L17.08 -14.34M23.22 -14.34 L27.32 -14.34M14.34 0.00 L18.44 0.00M32.10 -14.34 L32.10 0.00M32.78 -14.34 L36.88 -2.05M32.10 -14.34 L36.88 0.00M41.66 -14.34 L36.88 0.00M41.66 -14.34 L41.66 0.00M42.35 -14.34 L42.35 0.00M30.05 -14.34 L32.78 -14.34M41.66 -14.34 L44.40 -14.34M30.05 0.00 L34.15 0.00M39.61 0.00 L44.40 0.00" fill="none" stroke="#000" stroke-width="1.90" stroke-linecap="round" stroke-linejoin="round"/>
<path transform="translate(242.40 157.56)" d="M4.91 -17.08 L3.51 -15.71 L2.10 -13.66 L0.70 -10.93 L0.00 -7.51 L0.00 -4.78 L0.70 -1.37 L2.10 1.37 L3.51 3.42 L4.91 4.78M3.51 -15.71 L2.10 -12.98 L1.40 -10.93 L0.70 -7.51 L0.70 -4.78 L1.40 -1.37 L2.10 0.68 L3.51 3.42M10.52 -9.56 L10.52 0.00M11.22 -9.56 L11.22 0.00M11.22 -7.51 L12.62 -8.88 L14.72 -9.56 L16.13 -9.56 L18.23 -8.88 L18.93 -7.51 L18.93 0.00M16.13 -9.56 L17.53 -8.88 L18.23 -7.51 L18.23 0.00M8.41 -9.56 L11.22 -9.56M8.41 0.00 L13.32 0.00M16.13 0.00 L21.03 0.00M25.73 -8.06 L37.37 -8.06M25.73 -4.23 L37.37 -4.23M45.22 -11.61 L46.27 -12.29 L48.38 -14.34 L48.38 0.00M47.68 -13.66 L47.68 0.00M45.22 0.00 L50.13 0.00M56.79 -17.08 L58.19 -15.71 L59.60 -13.66 L61.00 -10.93 L61.70 -7.51 L61.70 -4.78 L61.00 -1.37 L59.60 1.37 L58.19 3.42 L56.79 4.78M58.19 -15.71 L59.60 -12.98 L60.30 -10.93 L61.00 -7.51 L61.00 -4.78 L60.30 -1.37 L59.60 0.68 L58.19 3.42" fill="none" stroke="#000" stroke-width="1.90" stroke-linecap="round" stroke-linejoin="round"/>
<path transform="translate(182.10 185.72)" d="M4.78 -14.34 L2.73 -13.66 L1.37 -12.29 L0.68 -10.93 L0.00 -8.20 L0.00 -6.15 L0.68 -3.42 L1.37 -2.05 L2.73 -0.68 L4.78 0.00 L6.15 0.00 L8.20 -0.68 L9.56 -2.05 L10.25 -3.42 L10.93 -6.15 L10.93 -8.20 L10.25 -10.93 L9.56 -12.29 L8.20 -13.66 L6.15 -14.34 L4.78 -14.34M4.78 -14.34 L3.42 -13.66 L2.05 -12.29 L1.37 -10.93 L0.68 -8.20 L0.68 -6.15 L1.37 -3.42 L2.05 -2.05 L3.42 -0.68 L4.78 0.00M6.15 0.00 L7.51 -0.68 L8.88 -2.05 L9.56 -3.42 L10.25 -6.15 L10.25 -8.20 L9.56 -10.93 L8.88 -12.29 L7.51 -13.66 L6.15 -14.34M2.73 -1.37 L2.73 -2.05 L3.42 -3.42 L4.78 -4.10 L5.46 -4.10 L6.83 -3.42 L7.51 -2.05 L8.20 2.73 L8.88 3.42 L10.25 3.42 L10.93 2.05 L10.93 1.37M7.51 -2.05 L8.20 0.68 L8.88 2.05 L9.56 2.73 L10.25 2.73 L10.93 2.05M16.39 -14.34 L16.39 0.00M17.08 -14.34 L25.27 -1.37M17.08 -12.98 L25.27 0.00M25.27 -14.34 L25.27 0.00M14.34 -14.34 L17.08 -14.34M23.22 -14.34 L27.32 -14.34M14.34 0.00 L18.44 0.00M32.10 -14.34 L32.10 0.00M32.78 -14.34 L36.88 -2.05M32.10 -14.34 L36.88 0.00M41.66 -14.34 L36.88 0.00M41.66 -14.34 L41.66 0.00M42.35 -14.34 L42.35 0.00M30.05 -14.34 L32.78 -14.34M41.66 -14.34 L44.40 -14.34M30.05 0.00 L34.15 0.00M39.61 0.00 L44.40 0.00" fill="none" stroke="#000" stroke-width="1.90" stroke-linecap="round" stroke-linejoin="round"/>
<path transform="translate(242.40 185.72)" d="M4.91 -17.08 L3.51 -15.71 L2.10 -13.66 L0.70 -10.93 L0.00 -7.51 L0.00 -4.78 L0.70 -1.37 L2.10 1.37 L3.51 3.42 L4.91 4.78M3.51 -15.71 L2.10 -12.98 L1.40 -10.93 L0.70 -7.51 L0.70 -4.78 L1.40 -1.37 L2.10 0.68 L3.51 3.42M10.52 -9.56 L10.52 0.00M11.22 -9.56 L11.22 0.00M11.22 -7.51 L12.62 -8.88 L14.72 -9.56 L16.13 -9.56 L18.23 -8.88 L18.93 -7.51 L18.93 0.00M16.13 -9.56 L17.53 -8.88 L18.23 -7.51 L18.23 0.00M8.41 -9.56 L11.22 -9.56M8.41 0.00 L13.32 0.00M16.13 0.00 L21.03 0.00M25.73 -8.06 L37.37 -8.06M25.73 -4.23 L37.37 -4.23M43.47 -11.61 L44.17 -10.93 L43.47 -10.25 L42.77 -10.93 L42.77 -11.61 L43.47 -12.98 L44.17 -13.66 L46.27 -14.34 L49.08 -14.34 L51.18 -13.66 L51.88 -12.98 L52.59 -11.61 L52.59 -10.25 L51.88 -8.88 L49.78 -7.51 L46.27 -6.15 L44.87 -5.46 L43.47 -4.10 L42.77 -2.05 L42.77 0.00M49.08 -14.34 L50.48 -13.66 L51.18 -12.98 L51.88 -11.61 L51.88 -10.25 L51.18 -8.88 L49.08 -7.51 L46.27 -6.15M42.77 -1.37 L43.47 -2.05 L44.87 -2.05 L48.38 -0.68 L50.48 -0.68 L51.88 -1.37 L52.59 -2.05M44.87 -2.05 L48.38 0.00 L51.18 0.00 L51.88 -0.68 L52.59 -2.05 L52.59 -3.42M56.79 -17.08 L58.19 -15.71 L59.60 -13.66 L61.00 -10.93 L61.70 -7.51 L61.70 -4.78 L61.00 -1.37 L59.60 1.37 L58.19 3.42 L56.79 4.78M58.19 -15.71 L59.60 -12.98 L60.30 -10.93 L61.00 -7.51 L61.00 -4.78 L60.30 -1.37 L59.60 0.68 L58.19 3.42" fill="none" stroke="#000" stroke-width="1.90" stroke-linecap="round" stroke-linejoin="round"/>
<path transform="translate(182.10 213.88)" d="M4.78 -14.34 L2.73 -13.66 L1.37 -12.29 L0.68 -10.93 L0.00 -8.20 L0.00 -6.15 L0.68 -3.42 L1.37 -2.05 L2.73 -0.68 L4.78 0.00 L6.15 0.00 L8.20 -0.68 L9.56 -2.05 L10.25 -3.42 L10.93 -6.15 L10.93 -8.20 L10.25 -10.93 L9.56 -12.29 L8.20 -13.66 L6.15 -14.34 L4.78 -14.34M4.78 -14.34 L3.42 -13.66 L2.05 -12.29 L1.37 -10.93 L0.68 -8.20 L0.68 -6.15 L1.37 -3.42 L2.05 -2.05 L3.42 -0.68 L4.78 0.00M6.15 0.00 L7.51 -0.68 L8.88 -2.05 L9.56 -3.42 L10.25 -6.15 L10.25 -8.20 L9.56 -10.93 L8.88 -12.29 L7.51 -13.66 L6.15 -14.34M2.73 -1.37 L2.73 -2.05 L3.42 -3.42 L4.78 -4.10 L5.46 -4.10 L6.83 -3.42 L7.51 -2.05 L8.20 2.73 L8.88 3.42 L10.25 3.42 L10.93 2.05 L10.93 1.37M7.51 -2.05 L8.20 0.68 L8.88 2.05 L9.56 2.73 L10.25 2.73 L10.93 2.05M16.39 -14.34 L16.39 0.00M17.08 -14.34 L25.27 -1.37M17.08 -12.98 L25.27 0.00M25.27 -14.34 L25.27 0.00M14.34 -14.34 L17.08 -14.34M23.22 -14.34 L27.32 -14.34M14.34 0.00 L18.44 0.00M32.10 -14.34 L32.10 0.00M32.78 -14.34 L36.88 -2.05M32.10 -14.34 L36.88 0.00M41.66 -14.34 L36.88 0.00M41.66 -14.34 L41.66 0.00M42.35 -14.34 L42.35 0.00M30.05 -14.34 L32.78 -14.34M41.66 -14.34 L44.40 -14.34M30.05 0.00 L34.15 0.00M39.61 0.00 L44.40 0.00" fill="none" stroke="#000" stroke-width="1.90" stroke-linecap="round" stroke-linejoin="round"/>
<path transform="translate(242.40 213.88)" d="M4.91 -17.08 L3.51 -15.71 L2.10 -13.66 L0.70 -10.93 L0.00 -7.51 L0.00 -4.78 L0.70 -1.37 L2.10 1.37 L3.51 3.42 L4.91 4.78M3.51 -15.71 L2.10 -12.98 L1.40 -10.93 L0.70 -7.51 L0.70 -4.78 L1.40 -1.37 L2.10 0.68 L3.51 3.42M10.52 -9.56 L10.52 0.00M11.22 -9.56 L11.22 0.00M11.22 -7.51 L12.62 -8.88 L14.72 -9.56 L16.13 -9.56 L18.23 -8.88 L18.93 -7.51 L18.93 0.00M16.13 -9.56 L17.53 -8.88 L18.23 -7.51 L18.23 0.00M8.41 -9.56 L11.22 -9.56M8.41 0.00 L13.32 0.00M16.13 0.00 L21.03 0.00M25.73 -8.06 L37.37 -8.06M25.73 -4.23 L37.37 -4.23M43.47 -11.61 L44.17 -10.93 L43.47 -10.25 L42.77 -10.93 L42.77 -11.61 L43.47 -12.98 L44.17 -13.66 L46.27 -14.34 L49.08 -14.34 L51.18 -13.66 L51.88 -12.29 L51.88 -10.25 L51.18 -8.88 L49.08 -8.20 L46.98 -8.20M49.08 -14.34 L50.48 -13.66 L51.18 -12.29 L51.18 -10.25 L50.48 -8.88 L49.08 -8.20M49.08 -8.20 L50.48 -7.51 L51.88 -6.15 L52.59 -4.78 L52.59 -2.73 L51.88 -1.37 L51.18 -0.68 L49.08 0.00 L46.27 0.00 L44.17 -0.68 L43.47 -1.37 L42.77 -2.73 L42.77 -3.42 L43.47 -4.10 L44.17 -3.42 L43.47 -2.73M51.18 -6.83 L51.88 -4.78 L51.88 -2.73 L51.18 -1.37 L50.48 -0.68 L49.08 0.00M56.79 -17.08 L58.19 -15.71 L59.60 -13.66 L61.00 -10.93 L61.70 -7.51 L61.70 -4.78 L61.00 -1.37 L59.60 1.37 L58.19 3.42 L56.79 4.78M58.19 -15.71 L59.60 -12.98 L60.30 -10.93 L61.00 -7.51 L61.00 -4.78 L60.30 -1.37 L59.60 0.68 L58.19 3.42" fill="none" stroke="#000" stroke-width="1.90" stroke-linecap="round" stroke-linejoin="round"/>
<path transform="translate(182.10 242.04)" d="M4.78 -14.34 L2.73 -13.66 L1.37 -12.29 L0.68 -10.93 L0.00 -8.20 L0.00 -6.15 L0.68 -3.42 L1.37 -2.05 L2.73 -0.68 L4.78 0.00 L6.15 0.00 L8.20 -0.68 L9.56 -2.05 L10.25 -3.42 L10.93 -6.15 L10.93 -8.20 L10.25 -10.93 L9.56 -12.29 L8.20 -13.66 L6.15 -14.34 L4.78 -14.34M4.78 -14.34 L3.42 -13.66 L2.05 -12.29 L1.37 -10.93 L0.68 -8.20 L0.68 -6.15 L1.37 -3.42 L2.05 -2.05 L3.42 -0.68 L4.78 0.00M6.15 0.00 L7.51 -0.68 L8.88 -2.05 L9.56 -3.42 L10.25 -6.15 L10.25 -8.20 L9.56 -10.93 L8.88 -12.29 L7.51 -13.66 L6.15 -14.34M2.73 -1.37 L2.73 -2.05 L3.42 -3.42 L4.78 -4.10 L5.46 -4.10 L6.83 -3.42 L7.51 -2.05 L8.20 2.73 L8.88 3.42 L10.25 3.42 L10.93 2.05 L10.93 1.37M7.51 -2.05 L8.20 0.68 L8.88 2.05 L9.56 2.73 L10.25 2.73 L10.93 2.05M16.39 -14.34 L16.39 0.00M17.08 -14.34 L25.27 -1.37M17.08 -12.98 L25.27 0.00M25.27 -14.34 L25.27 0.00M14.34 -14.34 L17.08 -14.34M23.22 -14.34 L27.32 -14.34M14.34 0.00 L18.44 0.00M32.10 -14.34 L32.10 0.00M32.78 -14.34 L36.88 -2.05M32.10 -14.34 L36.88 0.00M41.66 -14.34 L36.88 0.00M41.66 -14.34 L41.66 0.00M42.35 -14.34 L42.35 0.00M30.05 -14.34 L32.78 -14.34M41.66 -14.34 L44.40 -14.34M30.05 0.00 L34.15 0.00M39.61 0.00 L44.40 0.00" fill="none" stroke="#000" stroke-width="1.90" stroke-linecap="round" stroke-linejoin="round"/>
<path transform="translate(242.40 242.04)" d="M4.91 -17.08 L3.51 -15.71 L2.10 -13.66 L0.70 -10.93 L0.00 -7.51 L0.00 -4.78 L0.70 -1.37 L2.10 1.37 L3.51 3.42 L4.91 4.78M3.51 -15.71 L2.10 -12.98 L1.40 -10.93 L0.70 -7.51 L0.70 -4.78 L1.40 -1.37 L2.10 0.68 L3.51 3.42M10.52 -9.56 L10.52 0.00M11.22 -9.56 L11.22 0.00M11.22 -7.51 L12.62 -8.88 L14.72 -9.56 L16.13 -9.56 L18.23 -8.88 L18.93 -7.51 L18.93 0.00M16.13 -9.56 L17.53 -8.88 L18.23 -7.51 L18.23 0.00M8.41 -9.56 L11.22 -9.56M8.41 0.00 L13.32 0.00M16.13 0.00 L21.03 0.00M25.73 -8.06 L37.37 -8.06M25.73 -4.23 L37.37 -4.23M49.08 -12.98 L49.08 0.00M49.78 -14.34 L49.78 0.00M49.78 -14.34 L42.07 -4.10 L53.29 -4.10M46.98 0.00 L51.88 0.00M56.79 -17.08 L58.19 -15.71 L59.60 -13.66 L61.00 -10.93 L61.70 -7.51 L61.70 -4.78 L61.00 -1.37 L59.60 1.37 L58.19 3.42 L56.79 4.78M58.19 -15.71 L59.60 -12.98 L60.30 -10.93 L61.00 -7.51 L61.00 -4.78 L60.30 -1.37 L59.60 0.68 L58.19 3.42" fill="none" stroke="#000" stroke-width="1.90" stroke-linecap="round" stroke-linejoin="round"/>
<path transform="translate(182.10 270.20)" d="M4.78 -14.34 L2.73 -13.66 L1.37 -12.29 L0.68 -10.93 L0.00 -8.20 L0.00 -6.15 L0.68 -3.42 L1.37 -2.05 L2.73 -0.68 L4.78 0.00 L6.15 0.00 L8.20 -0.68 L9.56 -2.05 L10.25 -3.42 L10.93 -6.15 L10.93 -8.20 L10.25 -10.93 L9.56 -12.29 L8.20 -13.66 L6.15 -14.34 L4.78 -14.34M4.78 -14.34 L3.42 -13.66 L2.05 -12.29 L1.37 -10.93 L0.68 -8.20 L0.68 -6.15 L1.37 -3.42 L2.05 -2.05 L3.42 -0.68 L4.78 0.00M6.15 0.00 L7.51 -0.68 L8.88 -2.05 L9.56 -3.42 L10.25 -6.15 L10.25 -8.20 L9.56 -10.93 L8.88 -12.29 L7.51 -13.66 L6.15 -14.34M2.73 -1.37 L2.73 -2.05 L3.42 -3.42 L4.78 -4.10 L5.46 -4.10 L6.83 -3.42 L7.51 -2.05 L8.20 2.73 L8.88 3.42 L10.25 3.42 L10.93 2.05 L10.93 1.37M7.51 -2.05 L8.20 0.68 L8.88 2.05 L9.56 2.73 L10.25 2.73 L10.93 2.05M16.39 -14.34 L16.39 0.00M17.08 -14.34 L25.27 -1.37M17.08 -12.98 L25.27 0.00M25.27 -14.34 L25.27 0.00M14.34 -14.34 L17.08 -14.34M23.22 -14.34 L27.32 -14.34M14.34 0.00 L18.44 0.00M32.10 -14.34 L32.10 0.00M32.78 -14.34 L36.88 -2.05M32.10 -14.34 L36.88 0.00M41.66 -14.34 L36.88 0.00M41.66 -14.34 L41.66 0.00M42.35 -14.34 L42.35 0.00M30.05 -14.34 L32.78 -14.34M41.66 -14.34 L44.40 -14.34M30.05 0.00 L34.15 0.00M39.61 0.00 L44.40 0.00" fill="none" stroke="#000" stroke-width="1.90" stroke-linecap="round" stroke-linejoin="round"/>
<path transform="translate(242.40 270.20)" d="M4.91 -17.08 L3.51 -15.71 L2.10 -13.66 L0.70 -10.93 L0.00 -7.51 L0.00 -4.78 L0.70 -1.37 L2.10 1.37 L3.51 3.42 L4.91 4.78M3.51 -15.71 L2.10 -12.98 L1.40 -10.93 L0.70 -7.51 L0.70 -4.78 L1.40 -1.37 L2.10 0.68 L3.51 3.42M10.52 -9.56 L10.52 0.00M11.22 -9.56 L11.22 0.00M11.22 -7.51 L12.62 -8.88 L14.72 -9.56 L16.13 -9.56 L18.23 -8.88 L18.93 -7.51 L18.93 0.00M16.13 -9.56 L17.53 -8.88 L18.23 -7.51 L18.23 0.00M8.41 -9.56 L11.22 -9.56M8.41 0.00 L13.32 0.00M16.13 0.00 L21.03 0.00M25.73 -8.06 L37.37 -8.06M25.73 -4.23 L37.37 -4.23M44.17 -14.34 L42.77 -7.51M42.77 -7.51 L44.17 -8.88 L46.27 -9.56 L48.38 -9.56 L50.48 -8.88 L51.88 -7.51 L52.59 -5.46 L52.59 -4.10 L51.88 -2.05 L50.48 -0.68 L48.38 0.00 L46.27 0.00 L44.17 -0.68 L43.47 -1.37 L42.77 -2.73 L42.77 -3.42 L43.47 -4.10 L44.17 -3.42 L43.47 -2.73M48.38 -9.56 L49.78 -8.88 L51.18 -7.51 L51.88 -5.46 L51.88 -4.10 L51.18 -2.05 L49.78 -0.68 L48.38 0.00M44.17 -14.34 L51.18 -14.34M44.17 -13.66 L47.68 -13.66 L51.18 -14.34M56.79 -17.08 L58.19 -15.71 L59.60 -13.66 L61.00 -10.93 L61.70 -7.51 L61.70 -4.78 L61.00 -1.37 L59.60 1.37 L58.19 3.42 L56.79 4.78M58.19 -15.71 L59.60 -12.98 L60.30 -10.93 L61.00 -7.51 L61.00 -4.78 L60.30 -1.37 L59.60 0.68 L58.19 3.42" fill="none" stroke="#000" stroke-width="1.90" stroke-linecap="round" stroke-linejoin="round"/>
<path transform="translate(182.10 298.36)" d="M4.78 -14.34 L2.73 -13.66 L1.37 -12.29 L0.68 -10.93 L0.00 -8.20 L0.00 -6.15 L0.68 -3.42 L1.37 -2.05 L2.73 -0.68 L4.78 0.00 L6.15 0.00 L8.20 -0.68 L9.56 -2.05 L10.25 -3.42 L10.93 -6.15 L10.93 -8.20 L10.25 -10.93 L9.56 -12.29 L8.20 -13.66 L6.15 -14.34 L4.78 -14.34M4.78 -14.34 L3.42 -13.66 L2.05 -12.29 L1.37 -10.93 L0.68 -8.20 L0.68 -6.15 L1.37 -3.42 L2.05 -2.05 L3.42 -0.68 L4.78 0.00M6.15 0.00 L7.51 -0.68 L8.88 -2.05 L9.56 -3.42 L10.25 -6.15 L10.25 -8.20 L9.56 -10.93 L8.88 -12.29 L7.51 -13.66 L6.15 -14.34M2.73 -1.37 L2.73 -2.05 L3.42 -3.42 L4.78 -4.10 L5.46 -4.10 L6.83 -3.42 L7.51 -2.05 L8.20 2.73 L8.88 3.42 L10.25 3.42 L10.93 2.05 L10.93 1.37M7.51 -2.05 L8.20 0.68 L8.88 2.05 L9.56 2.73 L10.25 2.73 L10.93 2.05M16.39 -14.34 L16.39 0.00M17.08 -14.34 L25.27 -1.37M17.08 -12.98 L25.27 0.00M25.27 -14.34 L25.27 0.00M14.34 -14.34 L17.08 -14.34M23.22 -14.34 L27.32 -14.34M14.34 0.00 L18.44 0.00M32.10 -14.34 L32.10 0.00M32.78 -14.34 L36.88 -2.05M32.10 -14.34 L36.88 0.00M41.66 -14.34 L36.88 0.00M41.66 -14.34 L41.66 0.00M42.35 -14.34 L42.35 0.00M30.05 -14.34 L32.78 -14.34M41.66 -14.34 L44.40 -14.34M30.05 0.00 L34.15 0.00M39.61 0.00 L44.40 0.00" fill="none" stroke="#000" stroke-width="1.90" stroke-linecap="round" stroke-linejoin="round"/>
<path transform="translate(242.40 298.36)" d="M4.91 -17.08 L3.51 -15.71 L2.10 -13.66 L0.70 -10.93 L0.00 -7.51 L0.00 -4.78 L0.70 -1.37 L2.10 1.37 L3.51 3.42 L4.91 4.78M3.51 -15.71 L2.10 -12.98 L1.40 -10.93 L0.70 -7.51 L0.70 -4.78 L1.40 -1.37 L2.10 0.68 L3.51 3.42M10.52 -9.56 L10.52 0.00M11.22 -9.56 L11.22 0.00M11.22 -7.51 L12.62 -8.88 L14.72 -9.56 L16.13 -9.56 L18.23 -8.88 L18.93 -7.51 L18.93 0.00M16.13 -9.56 L17.53 -8.88 L18.23 -7.51 L18.23 0.00M8.41 -9.56 L11.22 -9.56M8.41 0.00 L13.32 0.00M16.13 0.00 L21.03 0.00M25.73 -8.06 L37.37 -8.06M25.73 -4.23 L37.37 -4.23M51.18 -12.29 L50.48 -11.61 L51.18 -10.93 L51.88 -11.61 L51.88 -12.29 L51.18 -13.66 L49.78 -14.34 L47.68 -14.34 L45.57 -13.66 L44.17 -12.29 L43.47 -10.93 L42.77 -8.20 L42.77 -4.10 L43.47 -2.05 L44.87 -0.68 L46.98 0.00 L48.38 0.00 L50.48 -0.68 L51.88 -2.05 L52.59 -4.10 L52.59 -4.78 L51.88 -6.83 L50.48 -8.20 L48.38 -8.88 L47.68 -8.88 L45.57 -8.20 L44.17 -6.83 L43.47 -4.78M47.68 -14.34 L46.27 -13.66 L44.87 -12.29 L44.17 -10.93 L43.47 -8.20 L43.47 -4.10 L44.17 -2.05 L45.57 -0.68 L46.98 0.00M48.38 0.00 L49.78 -0.68 L51.18 -2.05 L51.88 -4.10 L51.88 -4.78 L51.18 -6.83 L49.78 -8.20 L48.38 -8.88M56.79 -17.08 L58.19 -15.71 L59.60 -13.66 L61.00 -10.93 L61.70 -7.51 L61.70 -4.78 L61.00 -1.37 L59.60 1.37 L58.19 3.42 L56.79 4.78M58.19 -15.71 L59.60 -12.98 L60.30 -10.93 L61.00 -7.51 L61.00 -4.78 L60.30 -1.37 L59.60 0.68 L58.19 3.42" fill="none" stroke="#000" stroke-width="1.90" stroke-linecap="round" stroke-linejoin="round"/>
<path transform="translate(182.10 326.52)" d="M4.78 -14.34 L2.73 -13.66 L1.37 -12.29 L0.68 -10.93 L0.00 -8.20 L0.00 -6.15 L0.68 -3.42 L1.37 -2.05 L2.73 -0.68 L4.78 0.00 L6.15 0.00 L8.20 -0.68 L9.56 -2.05 L10.25 -3.42 L10.93 -6.15 L10.93 -8.20 L10.25 -10.93 L9.56 -12.29 L8.20 -13.66 L6.15 -14.34 L4.78 -14.34M4.78 -14.34 L3.42 -13.66 L2.05 -12.29 L1.37 -10.93 L0.68 -8.20 L0.68 -6.15 L1.37 -3.42 L2.05 -2.05 L3.42 -0.68 L4.78 0.00M6.15 0.00 L7.51 -0.68 L8.88 -2.05 L9.56 -3.42 L10.25 -6.15 L10.25 -8.20 L9.56 -10.93 L8.88 -12.29 L7.51 -13.66 L6.15 -14.34M2.73 -1.37 L2.73 -2.05 L3.42 -3.42 L4.78 -4.10 L5.46 -4.10 L6.83 -3.42 L7.51 -2.05 L8.20 2.73 L8.88 3.42 L10.25 3.42 L10.93 2.05 L10.93 1.37M7.51 -2.05 L8.20 0.68 L8.88 2.05 L9.56 2.73 L10.25 2.73 L10.93 2.05M16.39 -14.34 L16.39 0.00M17.08 -14.34 L25.27 -1.37M17.08 -12.98 L25.27 0.00M25.27 -14.34 L25.27 0.00M14.34 -14.34 L17.08 -14.34M23.22 -14.34 L27.32 -14.34M14.34 0.00 L18.44 0.00M32.10 -14.34 L32.10 0.00M32.78 -14.34 L36.88 -2.05M32.10 -14.34 L36.88 0.00M41.66 -14.34 L36.88 0.00M41.66 -14.34 L41.66 0.00M42.35 -14.34 L42.35 0.00M30.05 -14.34 L32.78 -14.34M41.66 -14.34 L44.40 -14.34M30.05 0.00 L34.15 0.00M39.61 0.00 L44.40 0.00" fill="none" stroke="#000" stroke-width="1.90" stroke-linecap="round" stroke-linejoin="round"/>
<path transform="translate(242.40 326.52)" d="M4.91 -17.08 L3.51 -15.71 L2.10 -13.66 L0.70 -10.93 L0.00 -7.51 L0.00 -4.78 L0.70 -1.37 L2.10 1.37 L3.51 3.42 L4.91 4.78M3.51 -15.71 L2.10 -12.98 L1.40 -10.93 L0.70 -7.51 L0.70 -4.78 L1.40 -1.37 L2.10 0.68 L3.51 3.42M10.52 -9.56 L10.52 0.00M11.22 -9.56 L11.22 0.00M11.22 -7.51 L12.62 -8.88 L14.72 -9.56 L16.13 -9.56 L18.23 -8.88 L18.93 -7.51 L18.93 0.00M16.13 -9.56 L17.53 -8.88 L18.23 -7.51 L18.23 0.00M8.41 -9.56 L11.22 -9.56M8.41 0.00 L13.32 0.00M16.13 0.00 L21.03 0.00M25.73 -8.06 L37.37 -8.06M25.73 -4.23 L37.37 -4.23M42.77 -14.34 L42.77 -10.25M42.77 -11.61 L43.47 -12.98 L44.87 -14.34 L46.27 -14.34 L49.78 -12.29 L51.18 -12.29 L51.88 -12.98 L52.59 -14.34M43.47 -12.98 L44.87 -13.66 L46.27 -13.66 L49.78 -12.29M52.59 -14.34 L52.59 -12.29 L51.88 -10.25 L49.08 -6.83 L48.38 -5.46 L47.68 -3.42 L47.68 0.00M51.88 -10.25 L48.38 -6.83 L47.68 -5.46 L46.98 -3.42 L46.98 0.00M56.79 -17.08 L58.19 -15.71 L59.60 -13.66 L61.00 -10.93 L61.70 -7.51 L61.70 -4.78 L61.00 -1.37 L59.60 1.37 L58.19 3.42 L56.79 4.78M58.19 -15.71 L59.60 -12.98 L60.30 -10.93 L61.00 -7.51 L61.00 -4.78 L60.30 -1.37 L59.60 0.68 L58.19 3.42" fill="none" stroke="#000" stroke-width="1.90" stroke-linecap="round" stroke-linejoin="round"/>
<path d="M339.7 99.4 H435.9" stroke="#000" stroke-width="4.8"/>
<path d="M339.7 127.6 H435.9" stroke="#ff0000" stroke-width="2.15" stroke-dasharray="2.5 3.52"/>
<path d="M339.7 155.7 H435.9" stroke="#00ff00" stroke-width="2.15" stroke-dasharray="11 7.6"/>
<path d="M339.7 183.8 H435.9" stroke="#0000ff" stroke-width="2.15" stroke-dasharray="27 7.6"/>
<path d="M339.7 212.0 H435.9" stroke="#5a1a6e" stroke-width="2.15" stroke-dasharray="2.2 4 10.5 4"/>
<path d="M339.7 240.2 H435.9" stroke="#ff7f00" stroke-width="2.15" stroke-dasharray="19 2.3 2 2.3"/>
<path d="M339.7 268.3 H435.9" stroke="#006400" stroke-width="2.15" stroke-dasharray="19.5 8 7.5 8"/>
<path d="M339.7 296.4 H435.9" stroke="#ff00ff" stroke-width="2.15"/>
<rect x="384.9" y="293.6" width="5.8" height="5.6" fill="#ff00ff"/>
<path d="M339.7 324.6 H435.9" stroke="#00ffff" stroke-width="2.15"/>
<path d="M384.7 321.6 L390.7 327.6 M384.7 327.6 L390.7 321.6" stroke="#00ffff" stroke-width="2.0" fill="none"/>
<path transform="translate(533.90 184.20)" d="M12.89 -15.04 L12.89 7.52M13.96 -15.04 L13.96 7.52M12.89 -11.81 L10.74 -13.96 L8.59 -15.04 L6.44 -15.04 L3.22 -13.96 L1.07 -11.81 L0.00 -8.59 L0.00 -6.44 L1.07 -3.22 L3.22 -1.07 L6.44 0.00 L8.59 0.00 L10.74 -1.07 L12.89 -3.22M6.44 -15.04 L4.30 -13.96 L2.15 -11.81 L1.07 -8.59 L1.07 -6.44 L2.15 -3.22 L4.30 -1.07 L6.44 0.00M9.67 7.52 L17.18 7.52M23.31 -12.67 L41.13 -12.67M23.31 -6.66 L41.13 -6.66M53.16 -18.26 L54.77 -19.33 L58.00 -22.55 L58.00 0.00M56.92 -21.48 L56.92 0.00M53.16 0.00 L60.68 0.00" fill="none" stroke="#000" stroke-width="2.10" stroke-linecap="round" stroke-linejoin="round"/>
<path transform="translate(214.40 645.00)" d="M2.69 -12.67 L2.69 6.33M3.58 -12.67 L3.58 6.33M3.58 -9.96 L5.38 -11.77 L7.17 -12.67 L8.96 -12.67 L11.65 -11.77 L13.44 -9.96 L14.34 -7.24 L14.34 -5.43 L13.44 -2.71 L11.65 -0.91 L8.96 0.00 L7.17 0.00 L5.38 -0.91 L3.58 -2.71M8.96 -12.67 L10.75 -11.77 L12.55 -9.96 L13.44 -7.24 L13.44 -5.43 L12.55 -2.71 L10.75 -0.91 L8.96 0.00M0.00 -12.67 L3.58 -12.67M0.00 6.33 L6.27 6.33M20.61 -7.24 L31.36 -7.24 L31.36 -9.05 L30.47 -10.86 L29.57 -11.77 L27.78 -12.67 L25.09 -12.67 L22.40 -11.77 L20.61 -9.96 L19.71 -7.24 L19.71 -5.43 L20.61 -2.71 L22.40 -0.91 L25.09 0.00 L26.88 0.00 L29.57 -0.91 L31.36 -2.71M30.47 -7.24 L30.47 -9.96 L29.57 -11.77M25.09 -12.67 L23.30 -11.77 L21.51 -9.96 L20.61 -7.24 L20.61 -5.43 L21.51 -2.71 L23.30 -0.91 L25.09 0.00M38.53 -10.86 L38.53 -9.96 L37.64 -9.96 L37.64 -10.86 L38.53 -11.77 L40.32 -12.67 L43.91 -12.67 L45.70 -11.77 L46.60 -10.86 L47.49 -9.05 L47.49 -2.71 L48.39 -0.91 L49.29 0.00M46.60 -10.86 L46.60 -2.71 L47.49 -0.91 L49.29 0.00 L50.18 0.00M46.60 -9.05 L45.70 -8.14 L40.32 -7.24 L37.64 -6.33 L36.74 -4.53 L36.74 -2.71 L37.64 -0.91 L40.32 0.00 L43.01 0.00 L44.81 -0.91 L46.60 -2.71M40.32 -7.24 L38.53 -6.33 L37.64 -4.53 L37.64 -2.71 L38.53 -0.91 L40.32 0.00M56.45 -19.00 L56.45 0.00M57.35 -19.00 L57.35 0.00M66.31 -12.67 L57.35 -3.62M61.83 -7.24 L67.21 0.00M60.94 -7.24 L66.31 0.00M53.77 -19.00 L57.35 -19.00M63.62 -12.67 L69.00 -12.67M53.77 0.00 L60.04 0.00M63.62 0.00 L69.00 0.00" fill="none" stroke="#000" stroke-width="1.90" stroke-linecap="round" stroke-linejoin="round"/>
<path transform="translate(303.50 645.00)" d="M5.43 -12.67 L2.71 -11.77 L0.91 -9.96 L0.00 -7.24 L0.00 -5.43 L0.91 -2.71 L2.71 -0.91 L5.43 0.00 L7.24 0.00 L9.96 -0.91 L11.77 -2.71 L12.67 -5.43 L12.67 -7.24 L11.77 -9.96 L9.96 -11.77 L7.24 -12.67 L5.43 -12.67M5.43 -12.67 L3.62 -11.77 L1.81 -9.96 L0.91 -7.24 L0.91 -5.43 L1.81 -2.71 L3.62 -0.91 L5.43 0.00M7.24 0.00 L9.05 -0.91 L10.86 -2.71 L11.77 -5.43 L11.77 -7.24 L10.86 -9.96 L9.05 -11.77 L7.24 -12.67M24.44 -18.10 L23.53 -17.20 L24.44 -16.29 L25.34 -17.20 L25.34 -18.10 L24.44 -19.00 L22.62 -19.00 L20.82 -18.10 L19.91 -16.29 L19.91 0.00M22.62 -19.00 L21.72 -18.10 L20.82 -16.29 L20.82 0.00M17.20 -12.67 L24.44 -12.67M17.20 0.00 L23.53 0.00" fill="none" stroke="#000" stroke-width="1.90" stroke-linecap="round" stroke-linejoin="round"/>
<path transform="translate(349.00 645.00)" d="M2.72 -19.00 L2.72 0.00M3.62 -19.00 L3.62 0.00M3.62 -9.96 L5.43 -11.77 L8.14 -12.67 L9.96 -12.67 L12.67 -11.77 L13.57 -9.96 L13.57 0.00M9.96 -12.67 L11.77 -11.77 L12.67 -9.96 L12.67 0.00M0.00 -19.00 L3.62 -19.00M0.00 0.00 L6.33 0.00M9.96 0.00 L16.29 0.00" fill="none" stroke="#000" stroke-width="1.90" stroke-linecap="round" stroke-linejoin="round"/>
<path transform="translate(367.70 636.70)" d="M1.64 -11.97 L1.64 0.00M2.18 -11.97 L8.72 -1.14M2.18 -10.83 L8.72 0.00M8.72 -11.97 L8.72 0.00M0.00 -11.97 L2.18 -11.97M7.09 -11.97 L10.36 -11.97M0.00 0.00 L3.27 0.00M14.17 -11.97 L14.17 0.00M14.72 -11.97 L14.72 0.00M12.54 -11.97 L19.08 -11.97 L20.71 -11.40 L21.26 -10.83 L21.80 -9.69 L21.80 -8.55 L21.26 -7.41 L20.71 -6.84 L19.08 -6.27 L14.72 -6.27M19.08 -11.97 L20.17 -11.40 L20.71 -10.83 L21.26 -9.69 L21.26 -8.55 L20.71 -7.41 L20.17 -6.84 L19.08 -6.27M12.54 0.00 L16.35 0.00M17.44 -6.27 L18.53 -5.70 L19.08 -5.13 L20.71 -1.14 L21.26 -0.57 L21.80 -0.57 L22.35 -1.14M18.53 -5.70 L19.08 -4.56 L20.17 -0.57 L20.71 0.00 L21.80 0.00 L22.35 -1.14 L22.35 -1.71" fill="none" stroke="#000" stroke-width="1.80" stroke-linecap="round" stroke-linejoin="round"/>
<path transform="translate(367.70 654.40)" d="M0.54 -9.60 L1.09 -9.04 L0.54 -8.47 L0.00 -9.04 L0.00 -9.60 L0.54 -10.73 L1.09 -11.30 L2.73 -11.86 L4.91 -11.86 L6.54 -11.30 L7.09 -10.73 L7.63 -9.60 L7.63 -8.47 L7.09 -7.34 L5.45 -6.21 L2.73 -5.08 L1.64 -4.52 L0.54 -3.39 L0.00 -1.69 L0.00 0.00M4.91 -11.86 L6.00 -11.30 L6.54 -10.73 L7.09 -9.60 L7.09 -8.47 L6.54 -7.34 L4.91 -6.21 L2.73 -5.08M0.00 -1.13 L0.54 -1.69 L1.64 -1.69 L4.36 -0.56 L6.00 -0.56 L7.09 -1.13 L7.63 -1.69M1.64 -1.69 L4.36 0.00 L6.54 0.00 L7.09 -0.56 L7.63 -1.69 L7.63 -2.82M11.45 -9.60 L11.99 -9.04 L11.45 -8.47 L10.90 -9.04 L10.90 -9.60 L11.45 -10.73 L11.99 -11.30 L13.63 -11.86 L15.81 -11.86 L17.44 -11.30 L17.98 -10.73 L18.53 -9.60 L18.53 -8.47 L17.98 -7.34 L16.35 -6.21 L13.63 -5.08 L12.54 -4.52 L11.45 -3.39 L10.90 -1.69 L10.90 0.00M15.81 -11.86 L16.89 -11.30 L17.44 -10.73 L17.98 -9.60 L17.98 -8.47 L17.44 -7.34 L15.81 -6.21 L13.63 -5.08M10.90 -1.13 L11.45 -1.69 L12.54 -1.69 L15.26 -0.56 L16.89 -0.56 L17.98 -1.13 L18.53 -1.69M12.54 -1.69 L15.26 0.00 L17.44 0.00 L17.98 -0.56 L18.53 -1.69 L18.53 -2.82" fill="none" stroke="#000" stroke-width="1.80" stroke-linecap="round" stroke-linejoin="round"/>
<path transform="translate(405.70 645.00)" d="M12.80 -16.29 L13.71 -13.58 L13.71 -19.00 L12.80 -16.29 L10.97 -18.10 L8.23 -19.00 L6.40 -19.00 L3.66 -18.10 L1.83 -16.29 L0.91 -14.48 L0.00 -11.77 L0.00 -7.24 L0.91 -4.53 L1.83 -2.71 L3.66 -0.91 L6.40 0.00 L8.23 0.00 L10.97 -0.91 L12.80 -2.71 L13.71 -4.53M6.40 -19.00 L4.57 -18.10 L2.74 -16.29 L1.83 -14.48 L0.91 -11.77 L0.91 -7.24 L1.83 -4.53 L2.74 -2.71 L4.57 -0.91 L6.40 0.00M21.02 -10.86 L21.02 -9.96 L20.11 -9.96 L20.11 -10.86 L21.02 -11.77 L22.85 -12.67 L26.50 -12.67 L28.33 -11.77 L29.25 -10.86 L30.16 -9.05 L30.16 -2.71 L31.07 -0.91 L31.99 0.00M29.25 -10.86 L29.25 -2.71 L30.16 -0.91 L31.99 0.00 L32.90 0.00M29.25 -9.05 L28.33 -8.14 L22.85 -7.24 L20.11 -6.33 L19.19 -4.53 L19.19 -2.71 L20.11 -0.91 L22.85 0.00 L25.59 0.00 L27.42 -0.91 L29.25 -2.71M22.85 -7.24 L21.02 -6.33 L20.11 -4.53 L20.11 -2.71 L21.02 -0.91 L22.85 0.00M39.30 -19.00 L39.30 0.00M40.21 -19.00 L40.21 0.00M36.56 -19.00 L40.21 -19.00M36.56 0.00 L42.95 0.00M49.35 -19.00 L49.35 -3.62 L50.27 -0.91 L52.09 0.00 L53.92 0.00 L55.75 -0.91 L56.66 -2.71M50.27 -19.00 L50.27 -3.62 L51.18 -0.91 L52.09 0.00M46.61 -12.67 L53.92 -12.67M62.15 -7.24 L73.11 -7.24 L73.11 -9.05 L72.20 -10.86 L71.29 -11.77 L69.46 -12.67 L66.72 -12.67 L63.98 -11.77 L62.15 -9.96 L61.23 -7.24 L61.23 -5.43 L62.15 -2.71 L63.98 -0.91 L66.72 0.00 L68.55 0.00 L71.29 -0.91 L73.11 -2.71M72.20 -7.24 L72.20 -9.96 L71.29 -11.77M66.72 -12.67 L64.89 -11.77 L63.06 -9.96 L62.15 -7.24 L62.15 -5.43 L63.06 -2.71 L64.89 -0.91 L66.72 0.00M89.57 -9.96 L88.65 -9.05 L89.57 -8.14 L90.48 -9.05 L90.48 -9.96 L88.65 -11.77 L86.82 -12.67 L84.08 -12.67 L81.34 -11.77 L79.51 -9.96 L78.60 -7.24 L78.60 -5.43 L79.51 -2.71 L81.34 -0.91 L84.08 0.00 L85.91 0.00 L88.65 -0.91 L90.48 -2.71M84.08 -12.67 L82.25 -11.77 L80.43 -9.96 L79.51 -7.24 L79.51 -5.43 L80.43 -2.71 L82.25 -0.91 L84.08 0.00M97.79 -19.00 L97.79 0.00M98.70 -19.00 L98.70 0.00M98.70 -9.96 L100.53 -11.77 L103.27 -12.67 L105.10 -12.67 L107.84 -11.77 L108.76 -9.96 L108.76 0.00M105.10 -12.67 L106.93 -11.77 L107.84 -9.96 L107.84 0.00M95.05 -19.00 L98.70 -19.00M95.05 0.00 L101.45 0.00M105.10 0.00 L111.50 0.00" fill="none" stroke="#000" stroke-width="1.90" stroke-linecap="round" stroke-linejoin="round"/>
<path d="M524.4 637 H538.7" stroke="#000" stroke-width="1.9" stroke-linecap="round"/>
<path transform="translate(545.90 645.00)" d="M12.82 -16.29 L13.73 -13.58 L13.73 -19.00 L12.82 -16.29 L10.99 -18.10 L8.24 -19.00 L6.41 -19.00 L3.66 -18.10 L1.83 -16.29 L0.92 -14.48 L0.00 -11.77 L0.00 -7.24 L0.92 -4.53 L1.83 -2.71 L3.66 -0.91 L6.41 0.00 L8.24 0.00 L10.99 -0.91 L12.82 -2.71 L13.73 -4.53M6.41 -19.00 L4.58 -18.10 L2.75 -16.29 L1.83 -14.48 L0.92 -11.77 L0.92 -7.24 L1.83 -4.53 L2.75 -2.71 L4.58 -0.91 L6.41 0.00M24.72 -12.67 L21.97 -11.77 L20.14 -9.96 L19.23 -7.24 L19.23 -5.43 L20.14 -2.71 L21.97 -0.91 L24.72 0.00 L26.55 0.00 L29.30 -0.91 L31.13 -2.71 L32.04 -5.43 L32.04 -7.24 L31.13 -9.96 L29.30 -11.77 L26.55 -12.67 L24.72 -12.67M24.72 -12.67 L22.89 -11.77 L21.06 -9.96 L20.14 -7.24 L20.14 -5.43 L21.06 -2.71 L22.89 -0.91 L24.72 0.00M26.55 0.00 L28.38 -0.91 L30.21 -2.71 L31.13 -5.43 L31.13 -7.24 L30.21 -9.96 L28.38 -11.77 L26.55 -12.67M39.37 -12.67 L39.37 0.00M40.28 -12.67 L40.28 0.00M40.28 -7.24 L41.20 -9.96 L43.03 -11.77 L44.86 -12.67 L47.61 -12.67 L48.52 -11.77 L48.52 -10.86 L47.61 -9.96 L46.69 -10.86 L47.61 -11.77M36.62 -12.67 L40.28 -12.67M36.62 0.00 L43.03 0.00M54.93 -12.67 L54.93 0.00M55.85 -12.67 L55.85 0.00M55.85 -9.96 L57.68 -11.77 L60.42 -12.67 L62.26 -12.67 L65.00 -11.77 L65.92 -9.96 L65.92 0.00M62.26 -12.67 L64.09 -11.77 L65.00 -9.96 L65.00 0.00M52.18 -12.67 L55.85 -12.67M52.18 0.00 L58.59 0.00M62.26 0.00 L68.66 0.00M74.16 -7.24 L85.14 -7.24 L85.14 -9.05 L84.23 -10.86 L83.31 -11.77 L81.48 -12.67 L78.73 -12.67 L75.99 -11.77 L74.16 -9.96 L73.24 -7.24 L73.24 -5.43 L74.16 -2.71 L75.99 -0.91 L78.73 0.00 L80.57 0.00 L83.31 -0.91 L85.14 -2.71M84.23 -7.24 L84.23 -9.96 L83.31 -11.77M78.73 -12.67 L76.90 -11.77 L75.07 -9.96 L74.16 -7.24 L74.16 -5.43 L75.07 -2.71 L76.90 -0.91 L78.73 0.00M92.47 -19.00 L92.47 0.00M93.38 -19.00 L93.38 0.00M89.72 -19.00 L93.38 -19.00M89.72 0.00 L96.13 0.00M102.54 -19.00 L102.54 0.00M103.45 -19.00 L103.45 0.00M99.79 -19.00 L103.45 -19.00M99.79 0.00 L106.20 0.00" fill="none" stroke="#000" stroke-width="1.90" stroke-linecap="round" stroke-linejoin="round"/>
</svg>
</body></html>
